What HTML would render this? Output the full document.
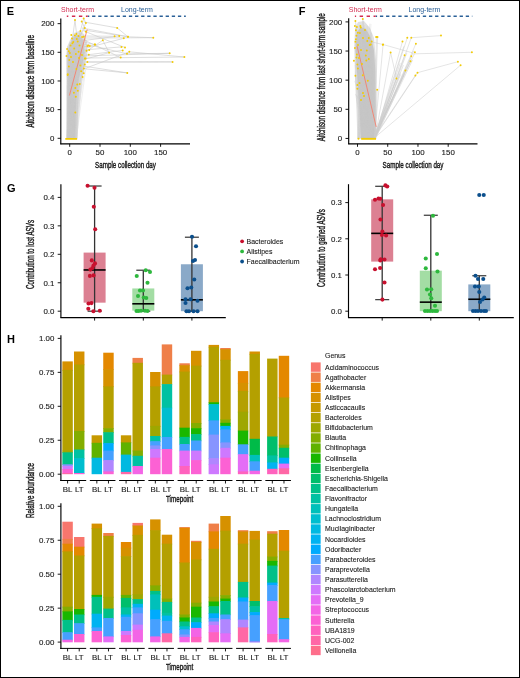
<!DOCTYPE html>
<html><head><meta charset="utf-8"><style>
html,body{margin:0;padding:0;background:#fff;}
svg{display:block;will-change:transform;}
text{font-family:"Liberation Sans",sans-serif;}
</style></head><body>
<svg width="520" height="678" viewBox="0 0 520 678">
<rect x="0" y="0" width="520" height="678" fill="#fff"/>
<g id="E">
<text transform="translate(6.80,14.80)" font-size="11" text-anchor="start" font-weight="bold" fill="#000" >E</text>
<text transform="translate(61.00,12.20)" font-size="7.0" text-anchor="start" font-weight="normal" fill="#D22C50" >Short-term</text>
<text transform="translate(121.00,12.20)" font-size="7.0" text-anchor="start" font-weight="normal" fill="#2B6198" >Long-term</text>
<line x1="87.70" y1="16.20" x2="185.80" y2="16.20" stroke="#2B6198" stroke-width="1.4" stroke-dasharray="3.3 2.83" stroke-dashoffset="1.73"/>
<line x1="66.80" y1="16.20" x2="87.70" y2="16.20" stroke="#D22C50" stroke-width="1.4" stroke-dasharray="3.4 3.6" stroke-dashoffset="1.9"/>
<path d="M66.2,138.6 L77.4,138.6 L77.9,110 L79,92 L81,80 L85,66 L87.5,52 L87,42 L84,34 L79,31 L74,33 L70,40 L67,47 L66.3,55 L66.6,80 L66.4,110 Z" fill="#e0e0e0"/>
<path d="M67.2,138.6 L75.4,138.6 L75.8,110 L76.7,92 L78.5,80 L82,66 L84.5,52 L84,43 L81,37 L77,35 L73,38 L69.5,44 L67.5,52 L67.4,80 L67.2,110 Z" fill="#cbcbcb"/>
<g stroke="#c4c4c4" stroke-width="0.45" opacity="0.6"><line x1="69.9" y1="138.4" x2="69.9" y2="76.3"/><line x1="67.3" y1="138.4" x2="77.2" y2="55.5"/><line x1="67.1" y1="138.4" x2="76.6" y2="35.3"/><line x1="71.1" y1="138.4" x2="68.3" y2="49.4"/><line x1="71.0" y1="138.4" x2="82.7" y2="38.7"/><line x1="68.8" y1="138.4" x2="78.9" y2="91.7"/><line x1="72.6" y1="138.4" x2="74.5" y2="93.5"/><line x1="67.0" y1="138.4" x2="83.3" y2="44.8"/><line x1="68.0" y1="138.4" x2="69.2" y2="58.9"/><line x1="75.1" y1="138.4" x2="70.4" y2="72.1"/><line x1="73.2" y1="138.4" x2="74.1" y2="67.4"/><line x1="67.2" y1="138.4" x2="68.1" y2="55.6"/><line x1="73.6" y1="138.4" x2="75.1" y2="52.9"/><line x1="72.6" y1="138.4" x2="75.6" y2="51.8"/><line x1="74.8" y1="138.4" x2="80.3" y2="48.0"/><line x1="72.5" y1="138.4" x2="77.0" y2="87.2"/><line x1="74.2" y1="138.4" x2="72.5" y2="93.8"/><line x1="67.7" y1="138.4" x2="74.9" y2="80.1"/><line x1="68.1" y1="138.4" x2="76.3" y2="35.5"/><line x1="73.5" y1="138.4" x2="81.5" y2="68.7"/><line x1="75.7" y1="138.4" x2="73.0" y2="77.0"/><line x1="72.7" y1="138.4" x2="78.0" y2="61.0"/><line x1="75.3" y1="138.4" x2="84.9" y2="52.9"/><line x1="73.5" y1="138.4" x2="68.2" y2="80.2"/><line x1="73.3" y1="138.4" x2="85.9" y2="64.7"/><line x1="69.5" y1="138.4" x2="74.3" y2="74.7"/><line x1="66.7" y1="138.4" x2="75.8" y2="43.7"/><line x1="67.7" y1="138.4" x2="68.1" y2="83.5"/><line x1="67.9" y1="138.4" x2="71.7" y2="60.3"/><line x1="75.6" y1="138.4" x2="68.5" y2="67.1"/><line x1="72.3" y1="138.4" x2="83.8" y2="63.7"/><line x1="75.6" y1="138.4" x2="72.3" y2="61.1"/><line x1="70.3" y1="138.4" x2="83.8" y2="68.5"/><line x1="68.1" y1="138.4" x2="70.3" y2="53.1"/><line x1="69.0" y1="138.4" x2="76.2" y2="69.6"/><line x1="69.3" y1="138.4" x2="67.1" y2="67.6"/><line x1="70.4" y1="138.4" x2="77.8" y2="92.1"/><line x1="73.8" y1="138.4" x2="76.8" y2="71.2"/><line x1="73.6" y1="138.4" x2="68.0" y2="90.0"/><line x1="74.7" y1="138.4" x2="83.6" y2="62.9"/><line x1="70.6" y1="138.4" x2="74.6" y2="40.1"/><line x1="73.2" y1="138.4" x2="68.2" y2="48.6"/><line x1="68.7" y1="138.4" x2="70.1" y2="59.3"/><line x1="67.1" y1="138.4" x2="67.0" y2="55.1"/><line x1="67.6" y1="138.4" x2="73.9" y2="35.7"/><line x1="75.7" y1="138.4" x2="78.7" y2="41.5"/><line x1="69.1" y1="138.4" x2="73.6" y2="56.7"/><line x1="67.8" y1="138.4" x2="83.1" y2="69.8"/><line x1="71.4" y1="138.4" x2="76.2" y2="38.4"/><line x1="67.6" y1="138.4" x2="73.5" y2="50.8"/><line x1="75.2" y1="138.4" x2="70.1" y2="42.1"/><line x1="76.5" y1="138.4" x2="77.0" y2="41.9"/><line x1="72.2" y1="138.4" x2="67.5" y2="72.3"/><line x1="76.8" y1="138.4" x2="83.4" y2="59.3"/><line x1="69.2" y1="138.4" x2="74.0" y2="44.2"/><line x1="74.6" y1="138.4" x2="77.1" y2="81.2"/><line x1="70.0" y1="138.4" x2="71.2" y2="84.4"/><line x1="76.8" y1="138.4" x2="83.2" y2="63.1"/><line x1="75.1" y1="138.4" x2="81.1" y2="47.2"/><line x1="71.9" y1="138.4" x2="73.8" y2="36.2"/><line x1="66.8" y1="138.4" x2="72.3" y2="52.0"/><line x1="73.8" y1="138.4" x2="85.2" y2="52.4"/><line x1="76.3" y1="138.4" x2="85.8" y2="68.6"/><line x1="70.3" y1="138.4" x2="71.2" y2="51.6"/><line x1="68.6" y1="138.4" x2="70.9" y2="74.1"/><line x1="76.0" y1="138.4" x2="83.0" y2="51.5"/><line x1="73.4" y1="138.4" x2="82.2" y2="37.0"/><line x1="73.4" y1="138.4" x2="84.3" y2="62.5"/><line x1="74.4" y1="138.4" x2="76.1" y2="44.2"/><line x1="74.8" y1="138.4" x2="73.3" y2="83.1"/><line x1="76.7" y1="138.4" x2="74.5" y2="58.4"/><line x1="76.4" y1="138.4" x2="80.8" y2="43.6"/><line x1="67.8" y1="138.4" x2="69.9" y2="89.9"/><line x1="75.0" y1="138.4" x2="69.8" y2="85.7"/><line x1="76.8" y1="138.4" x2="79.5" y2="54.3"/><line x1="72.3" y1="138.4" x2="69.5" y2="42.9"/><line x1="76.7" y1="138.4" x2="79.3" y2="65.3"/><line x1="76.3" y1="138.4" x2="75.2" y2="87.1"/><line x1="75.2" y1="138.4" x2="71.0" y2="53.3"/><line x1="69.6" y1="138.4" x2="71.6" y2="71.5"/><line x1="69.2" y1="138.4" x2="75.0" y2="41.7"/><line x1="76.1" y1="138.4" x2="73.7" y2="62.2"/><line x1="72.6" y1="138.4" x2="84.2" y2="50.0"/><line x1="76.1" y1="138.4" x2="76.5" y2="66.0"/><line x1="72.0" y1="138.4" x2="67.4" y2="68.2"/><line x1="68.4" y1="138.4" x2="67.1" y2="85.5"/><line x1="68.3" y1="138.4" x2="76.0" y2="78.0"/><line x1="72.3" y1="138.4" x2="73.2" y2="66.3"/><line x1="72.3" y1="138.4" x2="81.9" y2="40.2"/><line x1="72.4" y1="138.4" x2="71.7" y2="53.8"/><line x1="80.1" y1="56.7" x2="77.7" y2="61.0"/><line x1="82.5" y1="54.4" x2="78.6" y2="51.3"/><line x1="75.7" y1="65.7" x2="75.6" y2="52.9"/><line x1="75.1" y1="77.3" x2="80.3" y2="65.4"/><line x1="83.0" y1="46.2" x2="77.6" y2="67.9"/><line x1="81.3" y1="39.8" x2="69.3" y2="54.7"/><line x1="68.2" y1="53.5" x2="68.4" y2="61.7"/><line x1="80.3" y1="75.1" x2="69.9" y2="61.8"/><line x1="78.2" y1="39.1" x2="83.8" y2="68.9"/><line x1="70.7" y1="78.1" x2="74.6" y2="51.4"/><line x1="83.8" y1="72.4" x2="70.1" y2="53.4"/><line x1="75.8" y1="49.1" x2="70.7" y2="49.4"/><line x1="79.3" y1="33.1" x2="77.5" y2="49.1"/><line x1="67.3" y1="58.1" x2="78.9" y2="51.5"/><line x1="68.1" y1="79.5" x2="82.0" y2="69.0"/><line x1="68.8" y1="53.4" x2="67.8" y2="64.8"/><line x1="71.6" y1="43.6" x2="75.0" y2="66.8"/><line x1="80.9" y1="45.3" x2="69.8" y2="67.7"/><line x1="76.7" y1="65.9" x2="68.7" y2="45.5"/><line x1="78.7" y1="52.5" x2="68.4" y2="68.4"/><line x1="77.8" y1="70.6" x2="68.6" y2="66.3"/><line x1="68.1" y1="75.2" x2="75.6" y2="45.8"/><line x1="76.4" y1="76.6" x2="72.1" y2="41.6"/><line x1="76.0" y1="44.4" x2="69.1" y2="47.5"/><line x1="67.9" y1="52.9" x2="72.9" y2="46.3"/><line x1="79.9" y1="46.3" x2="76.5" y2="39.6"/><line x1="72.9" y1="36.7" x2="71.8" y2="38.4"/><line x1="79.5" y1="58.6" x2="70.6" y2="54.2"/><line x1="82.9" y1="39.2" x2="82.6" y2="49.6"/><line x1="75.4" y1="72.3" x2="74.5" y2="52.1"/><line x1="78.7" y1="79.2" x2="73.5" y2="64.1"/><line x1="79.0" y1="62.5" x2="74.7" y2="46.3"/><line x1="67.9" y1="50.3" x2="68.3" y2="63.5"/><line x1="71.3" y1="45.4" x2="68.6" y2="65.9"/><line x1="81.8" y1="64.7" x2="72.4" y2="44.9"/><line x1="72.0" y1="57.0" x2="70.0" y2="53.9"/><line x1="71.5" y1="78.4" x2="85.5" y2="55.9"/><line x1="71.2" y1="78.6" x2="72.9" y2="48.1"/><line x1="67.0" y1="60.2" x2="76.0" y2="51.7"/><line x1="70.4" y1="60.3" x2="67.1" y2="53.7"/><line x1="68.5" y1="58.6" x2="67.8" y2="46.7"/><line x1="72.2" y1="47.2" x2="78.1" y2="52.3"/><line x1="79.8" y1="63.7" x2="80.6" y2="65.5"/><line x1="73.6" y1="49.4" x2="85.7" y2="44.1"/><line x1="79.3" y1="62.9" x2="67.8" y2="66.1"/><line x1="82.2" y1="62.8" x2="80.9" y2="63.1"/><line x1="69.4" y1="62.1" x2="76.6" y2="63.9"/><line x1="80.7" y1="71.8" x2="78.1" y2="66.0"/><line x1="78.6" y1="65.3" x2="71.4" y2="39.6"/><line x1="69.3" y1="56.2" x2="69.0" y2="65.6"/></g>
<g stroke="#c8c8c8" stroke-width="0.6"><line x1="84.0" y1="22.0" x2="117.2" y2="27.9"/><line x1="83.7" y1="30.0" x2="127.9" y2="36.8"/><line x1="85.0" y1="38.0" x2="153.3" y2="37.7"/><line x1="80.0" y1="41.0" x2="119.2" y2="36.0"/><line x1="86.0" y1="48.0" x2="123.8" y2="38.3"/><line x1="84.0" y1="53.0" x2="102.8" y2="40.3"/><line x1="82.0" y1="56.0" x2="169.7" y2="53.3"/><line x1="85.0" y1="58.0" x2="184.4" y2="57.0"/><line x1="86.0" y1="62.0" x2="172.6" y2="61.9"/><line x1="83.0" y1="66.0" x2="127.3" y2="72.9"/><line x1="81.0" y1="70.0" x2="129.3" y2="51.8"/><line x1="85.0" y1="44.0" x2="127.0" y2="53.8"/><line x1="80.0" y1="38.0" x2="120.7" y2="57.6"/><line x1="84.0" y1="31.0" x2="125.0" y2="47.5"/><line x1="83.0" y1="50.0" x2="121.5" y2="46.9"/><line x1="86.0" y1="55.0" x2="122.7" y2="50.4"/><line x1="82.0" y1="60.0" x2="109.1" y2="52.7"/><line x1="84.0" y1="42.0" x2="94.7" y2="44.6"/><line x1="81.0" y1="47.0" x2="89.8" y2="46.0"/><line x1="83.0" y1="36.0" x2="114.6" y2="36.3"/><line x1="82.0" y1="28.0" x2="128.0" y2="36.7"/><line x1="75.0" y1="19.9" x2="72.0" y2="42.0"/><line x1="75.0" y1="19.9" x2="77.0" y2="38.0"/><line x1="83.7" y1="18.5" x2="79.0" y2="36.0"/><line x1="83.7" y1="18.5" x2="85.9" y2="23.0"/><line x1="81.7" y1="21.6" x2="84.8" y2="28.0"/><line x1="85.9" y1="23.0" x2="78.0" y2="40.0"/><line x1="84.8" y1="28.0" x2="75.0" y2="45.0"/><line x1="117.2" y1="27.9" x2="127.9" y2="36.8"/><line x1="102.8" y1="40.3" x2="109.1" y2="52.7"/><line x1="153.3" y1="37.7" x2="127.9" y2="36.8"/><line x1="169.7" y1="53.3" x2="127.0" y2="53.8"/><line x1="184.4" y1="57.0" x2="129.3" y2="51.8"/><line x1="172.6" y1="61.9" x2="84.0" y2="62.0"/><line x1="127.3" y1="72.9" x2="86.0" y2="69.0"/></g>
<line x1="69.40" y1="95.50" x2="87.20" y2="29.40" stroke="#F28472" stroke-width="0.95" />
<g fill="#F2CB05"><circle cx="117.2" cy="27.9" r="0.98"/><circle cx="127.9" cy="36.8" r="0.98"/><circle cx="153.3" cy="37.7" r="0.98"/><circle cx="119.2" cy="36.0" r="0.98"/><circle cx="123.8" cy="38.3" r="0.98"/><circle cx="102.8" cy="40.3" r="0.98"/><circle cx="169.7" cy="53.3" r="0.98"/><circle cx="184.4" cy="57.0" r="0.98"/><circle cx="172.6" cy="61.9" r="0.98"/><circle cx="127.3" cy="72.9" r="0.98"/><circle cx="129.3" cy="51.8" r="0.98"/><circle cx="127.0" cy="53.8" r="0.98"/><circle cx="120.7" cy="57.6" r="0.98"/><circle cx="125.0" cy="47.5" r="0.98"/><circle cx="121.5" cy="46.9" r="0.98"/><circle cx="122.7" cy="50.4" r="0.98"/><circle cx="109.1" cy="52.7" r="0.98"/><circle cx="94.7" cy="44.6" r="0.98"/><circle cx="89.8" cy="46.0" r="0.98"/><circle cx="114.6" cy="36.3" r="0.98"/><circle cx="128.0" cy="36.7" r="0.98"/><circle cx="75.0" cy="19.9" r="0.98"/><circle cx="83.7" cy="18.5" r="0.98"/><circle cx="81.7" cy="21.6" r="0.98"/><circle cx="85.9" cy="23.0" r="0.98"/><circle cx="84.8" cy="28.0" r="0.98"/><circle cx="80.4" cy="30.9" r="0.98"/><circle cx="85.9" cy="31.8" r="0.98"/><circle cx="71.3" cy="34.9" r="0.98"/><circle cx="74.9" cy="35.5" r="0.98"/><circle cx="76.4" cy="34.0" r="0.98"/><circle cx="83.7" cy="36.7" r="0.98"/><circle cx="95.1" cy="44.6" r="0.98"/><circle cx="72.4" cy="43.3" r="0.98"/><circle cx="73.3" cy="42.0" r="0.98"/><circle cx="70.6" cy="45.5" r="0.98"/><circle cx="67.1" cy="49.1" r="0.98"/><circle cx="68.8" cy="51.3" r="0.98"/><circle cx="69.9" cy="53.0" r="0.98"/><circle cx="87.4" cy="46.0" r="0.98"/><circle cx="88.3" cy="45.5" r="0.98"/><circle cx="86.5" cy="50.8" r="0.98"/><circle cx="89.2" cy="50.0" r="0.98"/><circle cx="88.8" cy="54.8" r="0.98"/><circle cx="85.7" cy="58.4" r="0.98"/><circle cx="84.8" cy="58.4" r="0.98"/><circle cx="78.6" cy="51.7" r="0.98"/><circle cx="75.9" cy="53.9" r="0.98"/><circle cx="69.3" cy="60.1" r="0.98"/><circle cx="87.4" cy="61.9" r="0.98"/><circle cx="84.8" cy="64.6" r="0.98"/><circle cx="80.4" cy="65.4" r="0.98"/><circle cx="83.9" cy="68.5" r="0.98"/><circle cx="81.2" cy="71.2" r="0.98"/><circle cx="76.4" cy="69.0" r="0.98"/><circle cx="83.7" cy="73.2" r="0.98"/><circle cx="67.8" cy="74.3" r="0.98"/><circle cx="77.7" cy="41.5" r="0.98"/><circle cx="76.8" cy="38.9" r="0.98"/><circle cx="79.5" cy="45.5" r="0.98"/><circle cx="74.2" cy="48.6" r="0.98"/><circle cx="82.1" cy="37.1" r="0.98"/><circle cx="82.6" cy="77.0" r="0.98"/><circle cx="79.8" cy="84.1" r="0.98"/><circle cx="77.3" cy="84.4" r="0.98"/><circle cx="75.3" cy="87.9" r="0.98"/><circle cx="77.8" cy="90.8" r="0.98"/><circle cx="73.9" cy="92.8" r="0.98"/><circle cx="75.8" cy="96.8" r="0.98"/><circle cx="75.3" cy="112.4" r="0.98"/><circle cx="67.7" cy="75.0" r="0.98"/><circle cx="68.9" cy="66.4" r="0.98"/><circle cx="66.5" cy="56.0" r="0.98"/><circle cx="71.0" cy="57.0" r="0.98"/><circle cx="73.0" cy="62.0" r="0.98"/><circle cx="79.0" cy="58.0" r="0.98"/><circle cx="82.0" cy="55.0" r="0.98"/><circle cx="72.0" cy="38.5" r="0.98"/><circle cx="78.5" cy="36.0" r="0.98"/></g>
<rect x="65.3" y="138.0" width="11.8" height="1.8" fill="#F2CB05"/>
<line x1="60.80" y1="18.40" x2="60.80" y2="144.30" stroke="#000" stroke-width="1.15" />
<line x1="57.60" y1="138.30" x2="60.80" y2="138.30" stroke="#000" stroke-width="0.9" />
<text transform="translate(54.30,141.10)" font-size="7.9" text-anchor="end" font-weight="normal" fill="#1a1a1a" stroke="#1a1a1a" stroke-width="0.12" >0</text>
<line x1="57.60" y1="109.64" x2="60.80" y2="109.64" stroke="#000" stroke-width="0.9" />
<text transform="translate(54.30,112.44)" font-size="7.9" text-anchor="end" font-weight="normal" fill="#1a1a1a" stroke="#1a1a1a" stroke-width="0.12" >50</text>
<line x1="57.60" y1="80.98" x2="60.80" y2="80.98" stroke="#000" stroke-width="0.9" />
<text transform="translate(54.30,83.78)" font-size="7.9" text-anchor="end" font-weight="normal" fill="#1a1a1a" stroke="#1a1a1a" stroke-width="0.12" >100</text>
<line x1="57.60" y1="52.31" x2="60.80" y2="52.31" stroke="#000" stroke-width="0.9" />
<text transform="translate(54.30,55.11)" font-size="7.9" text-anchor="end" font-weight="normal" fill="#1a1a1a" stroke="#1a1a1a" stroke-width="0.12" >150</text>
<line x1="57.60" y1="23.65" x2="60.80" y2="23.65" stroke="#000" stroke-width="0.9" />
<text transform="translate(54.30,26.45)" font-size="7.9" text-anchor="end" font-weight="normal" fill="#1a1a1a" stroke="#1a1a1a" stroke-width="0.12" >200</text>
<line x1="60.30" y1="143.80" x2="190.00" y2="143.80" stroke="#000" stroke-width="1.15" />
<line x1="69.70" y1="143.80" x2="69.70" y2="146.80" stroke="#000" stroke-width="0.9" />
<text transform="translate(69.70,155.40)" font-size="7.9" text-anchor="middle" font-weight="normal" fill="#1a1a1a" stroke="#1a1a1a" stroke-width="0.12" >0</text>
<line x1="100.00" y1="143.80" x2="100.00" y2="146.80" stroke="#000" stroke-width="0.9" />
<text transform="translate(100.00,155.40)" font-size="7.9" text-anchor="middle" font-weight="normal" fill="#1a1a1a" stroke="#1a1a1a" stroke-width="0.12" >50</text>
<line x1="130.30" y1="143.80" x2="130.30" y2="146.80" stroke="#000" stroke-width="0.9" />
<text transform="translate(130.30,155.40)" font-size="7.9" text-anchor="middle" font-weight="normal" fill="#1a1a1a" stroke="#1a1a1a" stroke-width="0.12" >100</text>
<line x1="160.60" y1="143.80" x2="160.60" y2="146.80" stroke="#000" stroke-width="0.9" />
<text transform="translate(160.60,155.40)" font-size="7.9" text-anchor="middle" font-weight="normal" fill="#1a1a1a" stroke="#1a1a1a" stroke-width="0.12" >150</text>
<text transform="translate(125.50,168.40) scale(0.64,1)" font-size="9.8" text-anchor="middle" font-weight="normal" fill="#1a1a1a" stroke="#1a1a1a" stroke-width="0.42" >Sample collection day</text>
<text transform="translate(33.50,81.30) rotate(-90) scale(0.647,1)" font-size="10.0" text-anchor="middle" font-weight="normal" fill="#1a1a1a" stroke="#1a1a1a" stroke-width="0.42" >Aitchison distance from baseline</text>
</g>
<g id="F">
<text transform="translate(298.80,14.60)" font-size="11" text-anchor="start" font-weight="bold" fill="#000" >F</text>
<text transform="translate(348.80,12.20)" font-size="7.0" text-anchor="start" font-weight="normal" fill="#D22C50" >Short-term</text>
<text transform="translate(408.50,12.20)" font-size="7.0" text-anchor="start" font-weight="normal" fill="#2B6198" >Long-term</text>
<line x1="375.60" y1="16.20" x2="472.30" y2="16.20" stroke="#2B6198" stroke-width="1.4" stroke-dasharray="3.3 2.83" stroke-dashoffset="1.8"/>
<line x1="354.90" y1="16.20" x2="375.60" y2="16.20" stroke="#D22C50" stroke-width="1.4" stroke-dasharray="3.4 3.55" stroke-dashoffset="2.2"/>
<path d="M354.3,45 L355,28 L358,22 L364,21 L370,28 L374,38 L376,60 L376.4,138.6 L357.3,138.6 L356.5,110 L355,80 Z" fill="#e0e0e0"/>
<path d="M355.5,48 L357,32 L361,27 L366,29 L371,38 L374,50 L375.3,70 L375.6,138.6 L361,138.6 L359.5,110 L357.5,80 Z" fill="#c8c8c8"/>
<g stroke="#c4c4c4" stroke-width="0.45" opacity="0.6"><line x1="364.3" y1="71.0" x2="369.3" y2="138.4"/><line x1="363.1" y1="22.3" x2="372.4" y2="99.2"/><line x1="363.9" y1="73.4" x2="359.2" y2="79.7"/><line x1="355.8" y1="42.7" x2="371.1" y2="138.4"/><line x1="367.4" y1="98.1" x2="366.9" y2="138.4"/><line x1="362.9" y1="75.3" x2="371.8" y2="138.4"/><line x1="365.7" y1="28.0" x2="360.7" y2="138.4"/><line x1="367.5" y1="45.7" x2="368.2" y2="138.4"/><line x1="355.6" y1="43.0" x2="370.1" y2="138.4"/><line x1="366.3" y1="44.7" x2="367.3" y2="138.4"/><line x1="362.7" y1="31.2" x2="374.1" y2="138.4"/><line x1="371.6" y1="95.0" x2="358.3" y2="138.4"/><line x1="368.8" y1="97.5" x2="366.1" y2="138.4"/><line x1="358.2" y1="95.8" x2="361.8" y2="138.4"/><line x1="357.0" y1="62.9" x2="375.1" y2="138.4"/><line x1="368.9" y1="61.7" x2="374.0" y2="78.0"/><line x1="370.2" y1="59.9" x2="358.4" y2="138.4"/><line x1="363.1" y1="57.2" x2="363.4" y2="138.4"/><line x1="360.5" y1="46.7" x2="373.1" y2="138.4"/><line x1="367.6" y1="87.5" x2="360.2" y2="115.6"/><line x1="370.3" y1="44.6" x2="364.7" y2="138.4"/><line x1="372.0" y1="68.0" x2="364.5" y2="138.4"/><line x1="359.3" y1="25.8" x2="359.8" y2="82.3"/><line x1="370.9" y1="41.4" x2="362.8" y2="138.4"/><line x1="357.8" y1="51.1" x2="375.2" y2="123.3"/><line x1="365.5" y1="93.2" x2="374.9" y2="138.4"/><line x1="367.1" y1="25.9" x2="371.2" y2="138.4"/><line x1="367.7" y1="72.3" x2="363.2" y2="138.4"/><line x1="370.7" y1="31.9" x2="366.5" y2="138.4"/><line x1="359.7" y1="79.6" x2="375.6" y2="138.4"/><line x1="366.0" y1="45.5" x2="368.0" y2="138.4"/><line x1="357.4" y1="34.6" x2="361.7" y2="98.8"/><line x1="358.4" y1="92.7" x2="375.9" y2="138.4"/><line x1="356.9" y1="37.0" x2="359.6" y2="138.4"/><line x1="356.1" y1="40.7" x2="362.7" y2="138.4"/><line x1="370.0" y1="80.5" x2="365.4" y2="138.4"/><line x1="363.7" y1="51.4" x2="364.1" y2="138.4"/><line x1="359.4" y1="97.5" x2="360.3" y2="138.4"/><line x1="365.5" y1="89.3" x2="361.9" y2="138.4"/><line x1="358.8" y1="53.2" x2="366.0" y2="126.2"/><line x1="369.8" y1="23.7" x2="358.6" y2="129.9"/><line x1="362.8" y1="67.8" x2="358.0" y2="138.4"/><line x1="370.7" y1="86.4" x2="373.4" y2="79.4"/><line x1="356.4" y1="34.0" x2="367.4" y2="138.4"/><line x1="371.0" y1="78.3" x2="369.7" y2="95.7"/><line x1="364.2" y1="25.1" x2="372.1" y2="138.4"/><line x1="370.6" y1="72.3" x2="363.5" y2="138.4"/><line x1="358.9" y1="71.6" x2="370.6" y2="138.4"/><line x1="355.7" y1="62.9" x2="368.5" y2="138.4"/><line x1="358.4" y1="68.9" x2="358.2" y2="138.4"/><line x1="362.6" y1="96.8" x2="369.6" y2="97.1"/><line x1="358.6" y1="41.3" x2="375.3" y2="84.0"/><line x1="354.9" y1="60.9" x2="370.1" y2="138.4"/><line x1="359.0" y1="74.1" x2="374.7" y2="138.4"/><line x1="355.1" y1="48.4" x2="365.6" y2="138.4"/><line x1="358.0" y1="84.2" x2="371.3" y2="138.4"/><line x1="358.1" y1="97.6" x2="363.6" y2="78.0"/><line x1="358.4" y1="81.3" x2="363.3" y2="98.7"/><line x1="357.8" y1="39.4" x2="365.5" y2="138.4"/><line x1="371.1" y1="33.4" x2="365.1" y2="138.4"/><line x1="371.5" y1="33.1" x2="358.9" y2="138.4"/><line x1="361.4" y1="92.1" x2="373.9" y2="137.8"/><line x1="370.8" y1="47.7" x2="361.3" y2="118.2"/><line x1="355.1" y1="73.8" x2="364.8" y2="138.4"/><line x1="360.3" y1="35.2" x2="358.1" y2="138.4"/><line x1="360.7" y1="96.5" x2="360.2" y2="76.2"/><line x1="360.7" y1="86.1" x2="372.8" y2="138.4"/><line x1="355.4" y1="58.9" x2="364.7" y2="75.1"/><line x1="360.9" y1="92.0" x2="358.5" y2="138.4"/><line x1="368.7" y1="81.8" x2="358.7" y2="138.4"/><line x1="355.6" y1="93.8" x2="362.6" y2="130.1"/><line x1="360.4" y1="43.2" x2="375.2" y2="138.4"/><line x1="359.1" y1="77.9" x2="363.7" y2="138.4"/><line x1="354.6" y1="80.9" x2="374.5" y2="138.4"/><line x1="371.0" y1="23.9" x2="362.2" y2="138.4"/><line x1="371.2" y1="96.4" x2="365.0" y2="138.4"/><line x1="362.0" y1="60.5" x2="374.7" y2="138.4"/><line x1="368.5" y1="79.6" x2="372.8" y2="107.4"/><line x1="360.2" y1="46.9" x2="364.5" y2="66.2"/><line x1="358.0" y1="80.7" x2="362.5" y2="138.4"/><line x1="355.1" y1="65.1" x2="363.9" y2="128.9"/><line x1="371.8" y1="42.7" x2="359.5" y2="138.4"/><line x1="363.2" y1="77.4" x2="366.0" y2="138.4"/><line x1="361.8" y1="70.4" x2="370.1" y2="126.1"/><line x1="366.1" y1="31.5" x2="373.1" y2="138.4"/><line x1="364.4" y1="51.1" x2="371.3" y2="138.4"/><line x1="358.8" y1="41.1" x2="360.8" y2="105.1"/><line x1="360.2" y1="52.9" x2="375.9" y2="138.4"/><line x1="358.5" y1="85.1" x2="369.8" y2="68.0"/><line x1="362.8" y1="85.9" x2="373.1" y2="63.1"/><line x1="359.6" y1="31.3" x2="361.4" y2="105.5"/><line x1="370.8" y1="51.0" x2="373.6" y2="138.4"/><line x1="359.0" y1="82.7" x2="375.0" y2="138.4"/><line x1="364.9" y1="70.4" x2="361.9" y2="138.4"/><line x1="357.0" y1="37.9" x2="362.6" y2="138.4"/><line x1="365.9" y1="37.9" x2="358.2" y2="138.4"/><line x1="366.4" y1="36.4" x2="363.6" y2="138.4"/><line x1="368.4" y1="64.7" x2="359.1" y2="138.4"/><line x1="361.4" y1="64.9" x2="369.5" y2="138.4"/><line x1="357.4" y1="76.2" x2="365.4" y2="138.4"/><line x1="359.9" y1="96.3" x2="363.6" y2="138.4"/><line x1="360.8" y1="54.5" x2="373.6" y2="88.4"/><line x1="358.0" y1="78.8" x2="361.7" y2="138.4"/><line x1="370.3" y1="55.1" x2="372.8" y2="138.4"/><line x1="369.9" y1="58.0" x2="360.9" y2="138.4"/><line x1="364.2" y1="72.0" x2="374.4" y2="138.4"/><line x1="365.4" y1="50.9" x2="367.1" y2="138.4"/><line x1="359.5" y1="62.7" x2="374.7" y2="138.4"/><line x1="363.1" y1="84.8" x2="375.4" y2="138.4"/><line x1="356.7" y1="95.6" x2="375.6" y2="138.4"/><line x1="355.4" y1="94.2" x2="365.0" y2="108.4"/><line x1="368.9" y1="34.5" x2="372.1" y2="138.4"/><line x1="361.6" y1="88.0" x2="372.9" y2="138.4"/><line x1="358.3" y1="53.2" x2="367.3" y2="138.4"/><line x1="356.7" y1="41.3" x2="371.0" y2="63.2"/><line x1="364.3" y1="81.1" x2="358.7" y2="69.2"/><line x1="365.0" y1="64.9" x2="369.3" y2="138.4"/><line x1="361.9" y1="67.4" x2="365.7" y2="138.4"/><line x1="362.3" y1="56.2" x2="358.4" y2="138.4"/><line x1="363.1" y1="40.3" x2="371.7" y2="95.7"/><line x1="357.6" y1="58.9" x2="359.9" y2="138.4"/><line x1="362.0" y1="29.2" x2="366.0" y2="138.4"/><line x1="355.2" y1="71.6" x2="359.5" y2="120.7"/><line x1="363.5" y1="26.2" x2="367.1" y2="138.4"/><line x1="371.1" y1="32.6" x2="373.4" y2="117.1"/><line x1="368.8" y1="37.1" x2="375.7" y2="138.4"/><line x1="371.2" y1="93.5" x2="361.0" y2="132.6"/><line x1="355.6" y1="49.4" x2="371.6" y2="138.4"/><line x1="370.2" y1="43.4" x2="372.7" y2="138.4"/><line x1="363.3" y1="93.8" x2="361.7" y2="138.4"/><line x1="362.8" y1="19.0" x2="371.1" y2="119.1"/><line x1="362.8" y1="19.0" x2="366.4" y2="115.2"/><line x1="362.8" y1="19.0" x2="367.6" y2="136.6"/><line x1="355.4" y1="20.9" x2="372.8" y2="135.4"/><line x1="355.4" y1="20.9" x2="367.7" y2="132.3"/><line x1="355.4" y1="20.9" x2="367.2" y2="125.1"/><line x1="360.4" y1="25.9" x2="372.4" y2="120.2"/><line x1="360.4" y1="25.9" x2="374.7" y2="125.8"/><line x1="360.4" y1="25.9" x2="371.8" y2="135.1"/><line x1="365.0" y1="30.0" x2="367.0" y2="138.2"/><line x1="365.0" y1="30.0" x2="372.3" y2="121.2"/><line x1="365.0" y1="30.0" x2="374.0" y2="117.5"/><line x1="368.8" y1="37.9" x2="375.9" y2="126.4"/><line x1="368.8" y1="37.9" x2="369.6" y2="131.7"/><line x1="368.8" y1="37.9" x2="370.4" y2="115.0"/><line x1="371.7" y1="41.5" x2="373.4" y2="111.4"/><line x1="371.7" y1="41.5" x2="374.2" y2="117.2"/><line x1="371.7" y1="41.5" x2="372.4" y2="137.9"/></g>
<g stroke="#cacaca" stroke-width="0.5"><line x1="374.6" y1="136.2" x2="383.1" y2="44.5"/><line x1="375.0" y1="137.5" x2="390.6" y2="52.5"/><line x1="375.4" y1="137.2" x2="376.3" y2="36.9"/><line x1="374.6" y1="136.6" x2="377.5" y2="37.0"/><line x1="374.7" y1="135.7" x2="396.5" y2="78.4"/><line x1="375.3" y1="137.0" x2="402.5" y2="41.5"/><line x1="374.5" y1="137.5" x2="407.3" y2="37.7"/><line x1="375.5" y1="136.8" x2="411.3" y2="37.7"/><line x1="375.3" y1="136.8" x2="415.9" y2="43.7"/><line x1="375.2" y1="136.3" x2="410.5" y2="61.2"/><line x1="374.6" y1="137.1" x2="405.4" y2="70.6"/><line x1="374.6" y1="136.6" x2="415.4" y2="75.4"/><line x1="375.3" y1="135.6" x2="411.3" y2="56.3"/><line x1="375.1" y1="137.2" x2="460.6" y2="65.2"/><line x1="375.4" y1="136.2" x2="377.2" y2="89.7"/><line x1="374.2" y1="135.9" x2="414.4" y2="53.9"/><line x1="374.9" y1="137.0" x2="404.6" y2="55.2"/><line x1="375.5" y1="136.2" x2="417.5" y2="72.7"/><line x1="441.0" y1="35.6" x2="411.3" y2="37.7"/><line x1="471.9" y1="52.3" x2="412.3" y2="53.9"/><line x1="457.9" y1="61.7" x2="417.5" y2="72.7"/><line x1="383.1" y1="44.5" x2="412.3" y2="52.8"/><line x1="390.6" y1="52.5" x2="396.5" y2="78.4"/><line x1="383.1" y1="44.5" x2="372.0" y2="42.0"/><line x1="375.6" y1="135.4" x2="411.0" y2="59.6"/><line x1="376.4" y1="136.9" x2="404.2" y2="74.8"/><line x1="374.6" y1="136.1" x2="406.9" y2="52.8"/><line x1="374.6" y1="137.1" x2="400.2" y2="63.2"/><line x1="376.4" y1="134.6" x2="403.4" y2="65.1"/><line x1="375.5" y1="136.6" x2="413.8" y2="50.8"/><line x1="375.1" y1="135.2" x2="400.8" y2="74.3"/><line x1="376.1" y1="136.9" x2="400.1" y2="72.9"/><line x1="376.0" y1="135.9" x2="412.6" y2="59.9"/><line x1="375.0" y1="134.4" x2="403.9" y2="46.3"/></g>
<line x1="357.10" y1="46.10" x2="376.20" y2="126.90" stroke="#F28472" stroke-width="0.95" />
<g fill="#F2CB05"><circle cx="441.0" cy="35.6" r="0.98"/><circle cx="471.9" cy="52.3" r="0.98"/><circle cx="457.9" cy="61.7" r="0.98"/><circle cx="460.6" cy="65.2" r="0.98"/><circle cx="417.5" cy="72.7" r="0.98"/><circle cx="415.4" cy="75.4" r="0.98"/><circle cx="411.3" cy="37.7" r="0.98"/><circle cx="407.3" cy="37.7" r="0.98"/><circle cx="402.5" cy="41.5" r="0.98"/><circle cx="415.9" cy="43.7" r="0.98"/><circle cx="414.9" cy="52.3" r="0.98"/><circle cx="411.3" cy="56.3" r="0.98"/><circle cx="404.6" cy="55.2" r="0.98"/><circle cx="410.5" cy="61.2" r="0.98"/><circle cx="390.6" cy="52.5" r="0.98"/><circle cx="383.1" cy="44.5" r="0.98"/><circle cx="376.3" cy="36.9" r="0.98"/><circle cx="377.2" cy="89.7" r="0.98"/><circle cx="396.5" cy="78.4" r="0.98"/><circle cx="405.4" cy="70.6" r="0.98"/><circle cx="377.5" cy="37.0" r="0.98"/><circle cx="362.8" cy="19.0" r="0.98"/><circle cx="355.4" cy="20.9" r="0.98"/><circle cx="354.9" cy="26.1" r="0.98"/><circle cx="356.9" cy="26.9" r="0.98"/><circle cx="360.4" cy="25.9" r="0.98"/><circle cx="360.8" cy="27.4" r="0.98"/><circle cx="355.9" cy="30.3" r="0.98"/><circle cx="357.9" cy="32.8" r="0.98"/><circle cx="359.9" cy="33.1" r="0.98"/><circle cx="356.4" cy="35.8" r="0.98"/><circle cx="355.9" cy="39.2" r="0.98"/><circle cx="355.4" cy="41.7" r="0.98"/><circle cx="368.8" cy="37.9" r="0.98"/><circle cx="367.3" cy="40.9" r="0.98"/><circle cx="371.7" cy="41.5" r="0.98"/><circle cx="369.7" cy="45.1" r="0.98"/><circle cx="370.7" cy="44.4" r="0.98"/><circle cx="376.5" cy="36.9" r="0.98"/><circle cx="382.8" cy="44.8" r="0.98"/><circle cx="354.9" cy="48.1" r="0.98"/><circle cx="366.8" cy="50.6" r="0.98"/><circle cx="356.9" cy="54.5" r="0.98"/><circle cx="356.4" cy="57.5" r="0.98"/><circle cx="353.9" cy="60.7" r="0.98"/><circle cx="357.4" cy="64.4" r="0.98"/><circle cx="357.9" cy="68.4" r="0.98"/><circle cx="368.8" cy="59.0" r="0.98"/><circle cx="366.3" cy="60.5" r="0.98"/><circle cx="365.8" cy="55.5" r="0.98"/><circle cx="355.4" cy="75.8" r="0.98"/><circle cx="362.8" cy="75.3" r="0.98"/><circle cx="367.8" cy="80.7" r="0.98"/><circle cx="357.4" cy="85.1" r="0.98"/><circle cx="357.4" cy="88.7" r="0.98"/><circle cx="359.5" cy="83.0" r="0.98"/><circle cx="363.0" cy="93.0" r="0.98"/><circle cx="364.0" cy="96.0" r="0.98"/><circle cx="361.0" cy="100.0" r="0.98"/><circle cx="358.0" cy="45.0" r="0.98"/><circle cx="361.0" cy="50.0" r="0.98"/><circle cx="363.0" cy="38.0" r="0.98"/><circle cx="365.0" cy="30.0" r="0.98"/><circle cx="359.0" cy="58.0" r="0.98"/><circle cx="362.0" cy="64.0" r="0.98"/></g>
<rect x="361.2" y="137.9" width="14.8" height="1.9" fill="#F2CB05"/>
<circle cx="358.5" cy="138.8" r="1.05" fill="#F2CB05"/>
<line x1="348.70" y1="18.20" x2="348.70" y2="144.30" stroke="#000" stroke-width="1.15" />
<line x1="345.50" y1="138.45" x2="348.70" y2="138.45" stroke="#000" stroke-width="0.9" />
<text transform="translate(342.20,141.25)" font-size="7.9" text-anchor="end" font-weight="normal" fill="#1a1a1a" stroke="#1a1a1a" stroke-width="0.12" >0</text>
<line x1="345.50" y1="109.31" x2="348.70" y2="109.31" stroke="#000" stroke-width="0.9" />
<text transform="translate(342.20,112.11)" font-size="7.9" text-anchor="end" font-weight="normal" fill="#1a1a1a" stroke="#1a1a1a" stroke-width="0.12" >50</text>
<line x1="345.50" y1="80.17" x2="348.70" y2="80.17" stroke="#000" stroke-width="0.9" />
<text transform="translate(342.20,82.97)" font-size="7.9" text-anchor="end" font-weight="normal" fill="#1a1a1a" stroke="#1a1a1a" stroke-width="0.12" >100</text>
<line x1="345.50" y1="51.04" x2="348.70" y2="51.04" stroke="#000" stroke-width="0.9" />
<text transform="translate(342.20,53.84)" font-size="7.9" text-anchor="end" font-weight="normal" fill="#1a1a1a" stroke="#1a1a1a" stroke-width="0.12" >150</text>
<line x1="345.50" y1="21.90" x2="348.70" y2="21.90" stroke="#000" stroke-width="0.9" />
<text transform="translate(342.20,24.70)" font-size="7.9" text-anchor="end" font-weight="normal" fill="#1a1a1a" stroke="#1a1a1a" stroke-width="0.12" >200</text>
<line x1="348.30" y1="143.80" x2="477.50" y2="143.80" stroke="#000" stroke-width="1.15" />
<line x1="357.50" y1="143.80" x2="357.50" y2="146.80" stroke="#000" stroke-width="0.9" />
<text transform="translate(357.50,155.40)" font-size="7.9" text-anchor="middle" font-weight="normal" fill="#1a1a1a" stroke="#1a1a1a" stroke-width="0.12" >0</text>
<line x1="387.73" y1="143.80" x2="387.73" y2="146.80" stroke="#000" stroke-width="0.9" />
<text transform="translate(387.73,155.40)" font-size="7.9" text-anchor="middle" font-weight="normal" fill="#1a1a1a" stroke="#1a1a1a" stroke-width="0.12" >50</text>
<line x1="417.97" y1="143.80" x2="417.97" y2="146.80" stroke="#000" stroke-width="0.9" />
<text transform="translate(417.97,155.40)" font-size="7.9" text-anchor="middle" font-weight="normal" fill="#1a1a1a" stroke="#1a1a1a" stroke-width="0.12" >100</text>
<line x1="448.20" y1="143.80" x2="448.20" y2="146.80" stroke="#000" stroke-width="0.9" />
<text transform="translate(448.20,155.40)" font-size="7.9" text-anchor="middle" font-weight="normal" fill="#1a1a1a" stroke="#1a1a1a" stroke-width="0.12" >150</text>
<text transform="translate(413.00,168.40) scale(0.64,1)" font-size="9.8" text-anchor="middle" font-weight="normal" fill="#1a1a1a" stroke="#1a1a1a" stroke-width="0.42" >Sample collection day</text>
<text transform="translate(325.00,77.30) rotate(-90) scale(0.625,1)" font-size="10.0" text-anchor="middle" font-weight="normal" fill="#1a1a1a" stroke="#1a1a1a" stroke-width="0.42" >Aitchison distance from last short-term sample</text>
</g>
<g id="G">
<text transform="translate(6.90,192.10)" font-size="11" text-anchor="start" font-weight="bold" fill="#000" >G</text>
<rect x="83.60" y="252.59" width="22.00" height="50.07" fill="#DC8092"/>
<line x1="94.60" y1="186.02" x2="94.60" y2="311.20" stroke="#333" stroke-width="1.3" />
<line x1="87.60" y1="186.02" x2="101.60" y2="186.02" stroke="#444" stroke-width="1.3" />
<line x1="87.60" y1="311.20" x2="101.60" y2="311.20" stroke="#444" stroke-width="1.3" />
<line x1="83.60" y1="269.95" x2="105.60" y2="269.95" stroke="#000" stroke-width="1.6" />
<rect x="132.30" y="288.44" width="22.00" height="22.19" fill="#A3DDA4"/>
<line x1="143.30" y1="270.23" x2="143.30" y2="311.20" stroke="#333" stroke-width="1.3" />
<line x1="136.30" y1="270.23" x2="150.30" y2="270.23" stroke="#444" stroke-width="1.3" />
<line x1="136.30" y1="311.20" x2="150.30" y2="311.20" stroke="#444" stroke-width="1.3" />
<line x1="132.30" y1="303.80" x2="154.30" y2="303.80" stroke="#000" stroke-width="1.6" />
<rect x="180.90" y="264.26" width="22.00" height="46.94" fill="#8AA9C8"/>
<line x1="191.90" y1="237.23" x2="191.90" y2="311.20" stroke="#333" stroke-width="1.3" />
<line x1="184.90" y1="237.23" x2="198.90" y2="237.23" stroke="#444" stroke-width="1.3" />
<line x1="184.90" y1="311.20" x2="198.90" y2="311.20" stroke="#444" stroke-width="1.3" />
<line x1="180.90" y1="299.82" x2="202.90" y2="299.82" stroke="#000" stroke-width="1.6" />
<g fill="#C8102E"><circle cx="87.60" cy="185.80" r="2.05"/><circle cx="94.50" cy="187.70" r="2.05"/><circle cx="93.80" cy="206.80" r="2.05"/><circle cx="95.20" cy="229.20" r="2.05"/><circle cx="91.80" cy="260.40" r="2.05"/><circle cx="95.00" cy="263.40" r="2.05"/><circle cx="93.50" cy="265.50" r="2.05"/><circle cx="90.40" cy="269.60" r="2.05"/><circle cx="92.50" cy="268.00" r="2.05"/><circle cx="89.90" cy="275.90" r="2.05"/><circle cx="93.60" cy="275.40" r="2.05"/><circle cx="88.50" cy="303.50" r="2.05"/><circle cx="91.50" cy="303.10" r="2.05"/><circle cx="88.30" cy="308.80" r="2.05"/><circle cx="93.40" cy="311.20" r="2.05"/><circle cx="99.80" cy="310.70" r="2.05"/></g>
<g fill="#2DB83D"><circle cx="145.75" cy="270.25" r="2.05"/><circle cx="150.00" cy="272.00" r="2.05"/><circle cx="136.75" cy="276.00" r="2.05"/><circle cx="147.50" cy="282.75" r="2.05"/><circle cx="140.00" cy="290.50" r="2.05"/><circle cx="143.00" cy="290.50" r="2.05"/><circle cx="138.00" cy="296.00" r="2.05"/><circle cx="143.75" cy="297.50" r="2.05"/><circle cx="146.25" cy="298.00" r="2.05"/><circle cx="136.50" cy="311.00" r="2.05"/><circle cx="138.50" cy="311.00" r="2.05"/><circle cx="141.00" cy="310.80" r="2.05"/><circle cx="145.00" cy="310.80" r="2.05"/><circle cx="147.50" cy="311.00" r="2.05"/></g>
<g fill="#0B4F8C"><circle cx="192.00" cy="236.75" r="2.05"/><circle cx="196.00" cy="246.25" r="2.05"/><circle cx="193.00" cy="261.00" r="2.05"/><circle cx="195.00" cy="260.00" r="2.05"/><circle cx="194.25" cy="279.50" r="2.05"/><circle cx="187.50" cy="288.25" r="2.05"/><circle cx="191.25" cy="287.50" r="2.05"/><circle cx="185.50" cy="299.25" r="2.05"/><circle cx="190.50" cy="299.25" r="2.05"/><circle cx="197.50" cy="300.75" r="2.05"/><circle cx="185.50" cy="303.00" r="2.05"/><circle cx="186.50" cy="311.20" r="2.05"/><circle cx="189.00" cy="311.20" r="2.05"/><circle cx="193.50" cy="311.20" r="2.05"/><circle cx="197.50" cy="311.20" r="2.05"/></g>
<line x1="60.90" y1="184.20" x2="60.90" y2="317.80" stroke="#000" stroke-width="1.15" />
<line x1="57.70" y1="311.20" x2="60.90" y2="311.20" stroke="#000" stroke-width="0.9" />
<text transform="translate(54.40,314.00)" font-size="7.9" text-anchor="end" font-weight="normal" fill="#1a1a1a" stroke="#1a1a1a" stroke-width="0.12" >0.0</text>
<line x1="57.70" y1="282.75" x2="60.90" y2="282.75" stroke="#000" stroke-width="0.9" />
<text transform="translate(54.40,285.55)" font-size="7.9" text-anchor="end" font-weight="normal" fill="#1a1a1a" stroke="#1a1a1a" stroke-width="0.12" >0.1</text>
<line x1="57.70" y1="254.30" x2="60.90" y2="254.30" stroke="#000" stroke-width="0.9" />
<text transform="translate(54.40,257.10)" font-size="7.9" text-anchor="end" font-weight="normal" fill="#1a1a1a" stroke="#1a1a1a" stroke-width="0.12" >0.2</text>
<line x1="57.70" y1="225.85" x2="60.90" y2="225.85" stroke="#000" stroke-width="0.9" />
<text transform="translate(54.40,228.65)" font-size="7.9" text-anchor="end" font-weight="normal" fill="#1a1a1a" stroke="#1a1a1a" stroke-width="0.12" >0.3</text>
<line x1="57.70" y1="197.40" x2="60.90" y2="197.40" stroke="#000" stroke-width="0.9" />
<text transform="translate(54.40,200.20)" font-size="7.9" text-anchor="end" font-weight="normal" fill="#1a1a1a" stroke="#1a1a1a" stroke-width="0.12" >0.4</text>
<line x1="60.40" y1="317.60" x2="225.80" y2="317.60" stroke="#000" stroke-width="1.15" />
<line x1="94.60" y1="317.60" x2="94.60" y2="320.60" stroke="#000" stroke-width="0.9" />
<text transform="translate(94.60,0.00)" font-size="7.9" text-anchor="middle" font-weight="normal" fill="#1a1a1a" stroke="#1a1a1a" stroke-width="0.12" ></text>
<line x1="143.30" y1="317.60" x2="143.30" y2="320.60" stroke="#000" stroke-width="0.9" />
<text transform="translate(143.30,0.00)" font-size="7.9" text-anchor="middle" font-weight="normal" fill="#1a1a1a" stroke="#1a1a1a" stroke-width="0.12" ></text>
<line x1="191.90" y1="317.60" x2="191.90" y2="320.60" stroke="#000" stroke-width="0.9" />
<text transform="translate(191.90,0.00)" font-size="7.9" text-anchor="middle" font-weight="normal" fill="#1a1a1a" stroke="#1a1a1a" stroke-width="0.12" ></text>
<text transform="translate(33.60,254.50) rotate(-90) scale(0.625,1)" font-size="10.0" text-anchor="middle" font-weight="normal" fill="#1a1a1a" stroke="#1a1a1a" stroke-width="0.42" >Contribution to lost ASVs</text>
<circle cx="242.1" cy="241.3" r="1.9" fill="#C8102E"/>
<text transform="translate(246.60,243.90)" font-size="6.95" text-anchor="start" font-weight="normal" fill="#1a1a1a" stroke="#1a1a1a" stroke-width="0.1" >Bacteroides</text>
<circle cx="242.1" cy="251.4" r="1.9" fill="#2DB83D"/>
<text transform="translate(246.60,254.00)" font-size="6.95" text-anchor="start" font-weight="normal" fill="#1a1a1a" stroke="#1a1a1a" stroke-width="0.1" >Alistipes</text>
<circle cx="242.1" cy="261.5" r="1.9" fill="#0B4F8C"/>
<text transform="translate(246.60,264.10)" font-size="6.95" text-anchor="start" font-weight="normal" fill="#1a1a1a" stroke="#1a1a1a" stroke-width="0.1" >Faecalibacterium</text>
<rect x="371.20" y="199.34" width="22.00" height="62.26" fill="#DC8092"/>
<line x1="382.20" y1="186.31" x2="382.20" y2="299.62" stroke="#333" stroke-width="1.3" />
<line x1="375.20" y1="186.31" x2="389.20" y2="186.31" stroke="#444" stroke-width="1.3" />
<line x1="375.20" y1="299.62" x2="389.20" y2="299.62" stroke="#444" stroke-width="1.3" />
<line x1="371.20" y1="233.37" x2="393.20" y2="233.37" stroke="#000" stroke-width="1.6" />
<rect x="419.80" y="270.66" width="22.00" height="40.54" fill="#A3DDA4"/>
<line x1="430.80" y1="215.27" x2="430.80" y2="311.20" stroke="#333" stroke-width="1.3" />
<line x1="423.80" y1="215.27" x2="437.80" y2="215.27" stroke="#444" stroke-width="1.3" />
<line x1="423.80" y1="311.20" x2="437.80" y2="311.20" stroke="#444" stroke-width="1.3" />
<line x1="419.80" y1="302.15" x2="441.80" y2="302.15" stroke="#000" stroke-width="1.6" />
<rect x="468.30" y="284.41" width="22.00" height="26.79" fill="#8AA9C8"/>
<line x1="479.30" y1="275.72" x2="479.30" y2="311.20" stroke="#333" stroke-width="1.3" />
<line x1="472.30" y1="275.72" x2="486.30" y2="275.72" stroke="#444" stroke-width="1.3" />
<line x1="472.30" y1="311.20" x2="486.30" y2="311.20" stroke="#444" stroke-width="1.3" />
<line x1="468.30" y1="299.25" x2="490.30" y2="299.25" stroke="#000" stroke-width="1.6" />
<g fill="#C8102E"><circle cx="385.40" cy="185.40" r="2.05"/><circle cx="387.20" cy="186.50" r="2.05"/><circle cx="375.00" cy="199.70" r="2.05"/><circle cx="378.50" cy="198.50" r="2.05"/><circle cx="380.30" cy="198.80" r="2.05"/><circle cx="383.10" cy="205.00" r="2.05"/><circle cx="380.50" cy="219.50" r="2.05"/><circle cx="382.40" cy="231.50" r="2.05"/><circle cx="381.90" cy="235.00" r="2.05"/><circle cx="386.10" cy="235.50" r="2.05"/><circle cx="380.80" cy="259.20" r="2.05"/><circle cx="384.50" cy="259.50" r="2.05"/><circle cx="380.30" cy="260.40" r="2.05"/><circle cx="375.00" cy="269.20" r="2.05"/><circle cx="380.10" cy="268.00" r="2.05"/><circle cx="384.50" cy="282.50" r="2.05"/><circle cx="382.40" cy="299.60" r="2.05"/></g>
<g fill="#2DB83D"><circle cx="433.00" cy="215.75" r="2.05"/><circle cx="425.75" cy="258.50" r="2.05"/><circle cx="437.00" cy="254.00" r="2.05"/><circle cx="425.75" cy="268.25" r="2.05"/><circle cx="437.50" cy="271.50" r="2.05"/><circle cx="427.00" cy="289.50" r="2.05"/><circle cx="431.25" cy="289.25" r="2.05"/><circle cx="430.00" cy="294.50" r="2.05"/><circle cx="431.25" cy="298.25" r="2.05"/><circle cx="435.00" cy="305.75" r="2.05"/><circle cx="425.00" cy="311.00" r="2.05"/><circle cx="427.50" cy="311.00" r="2.05"/><circle cx="430.00" cy="311.00" r="2.05"/><circle cx="432.50" cy="311.00" r="2.05"/><circle cx="435.00" cy="311.00" r="2.05"/><circle cx="437.00" cy="311.00" r="2.05"/></g>
<g fill="#0B4F8C"><circle cx="479.25" cy="195.00" r="2.05"/><circle cx="483.75" cy="195.00" r="2.05"/><circle cx="475.50" cy="275.75" r="2.05"/><circle cx="478.00" cy="279.00" r="2.05"/><circle cx="483.25" cy="279.00" r="2.05"/><circle cx="475.00" cy="286.50" r="2.05"/><circle cx="478.75" cy="286.50" r="2.05"/><circle cx="479.25" cy="292.00" r="2.05"/><circle cx="484.25" cy="297.50" r="2.05"/><circle cx="482.50" cy="299.50" r="2.05"/><circle cx="480.00" cy="302.00" r="2.05"/><circle cx="473.00" cy="311.00" r="2.05"/><circle cx="475.50" cy="311.00" r="2.05"/><circle cx="478.00" cy="311.00" r="2.05"/><circle cx="481.00" cy="311.00" r="2.05"/><circle cx="484.00" cy="311.00" r="2.05"/><circle cx="486.00" cy="311.00" r="2.05"/></g>
<line x1="348.50" y1="184.20" x2="348.50" y2="317.80" stroke="#000" stroke-width="1.15" />
<line x1="345.30" y1="311.20" x2="348.50" y2="311.20" stroke="#000" stroke-width="0.9" />
<text transform="translate(342.00,314.00)" font-size="7.9" text-anchor="end" font-weight="normal" fill="#1a1a1a" stroke="#1a1a1a" stroke-width="0.12" >0.0</text>
<line x1="345.30" y1="275.00" x2="348.50" y2="275.00" stroke="#000" stroke-width="0.9" />
<text transform="translate(342.00,277.80)" font-size="7.9" text-anchor="end" font-weight="normal" fill="#1a1a1a" stroke="#1a1a1a" stroke-width="0.12" >0.1</text>
<line x1="345.30" y1="238.80" x2="348.50" y2="238.80" stroke="#000" stroke-width="0.9" />
<text transform="translate(342.00,241.60)" font-size="7.9" text-anchor="end" font-weight="normal" fill="#1a1a1a" stroke="#1a1a1a" stroke-width="0.12" >0.2</text>
<line x1="345.30" y1="202.60" x2="348.50" y2="202.60" stroke="#000" stroke-width="0.9" />
<text transform="translate(342.00,205.40)" font-size="7.9" text-anchor="end" font-weight="normal" fill="#1a1a1a" stroke="#1a1a1a" stroke-width="0.12" >0.3</text>
<line x1="348.00" y1="317.60" x2="513.80" y2="317.60" stroke="#000" stroke-width="1.15" />
<line x1="382.20" y1="317.60" x2="382.20" y2="320.60" stroke="#000" stroke-width="0.9" />
<text transform="translate(382.20,0.00)" font-size="7.9" text-anchor="middle" font-weight="normal" fill="#1a1a1a" stroke="#1a1a1a" stroke-width="0.12" ></text>
<line x1="430.80" y1="317.60" x2="430.80" y2="320.60" stroke="#000" stroke-width="0.9" />
<text transform="translate(430.80,0.00)" font-size="7.9" text-anchor="middle" font-weight="normal" fill="#1a1a1a" stroke="#1a1a1a" stroke-width="0.12" ></text>
<line x1="479.30" y1="317.60" x2="479.30" y2="320.60" stroke="#000" stroke-width="0.9" />
<text transform="translate(479.30,0.00)" font-size="7.9" text-anchor="middle" font-weight="normal" fill="#1a1a1a" stroke="#1a1a1a" stroke-width="0.12" ></text>
<text transform="translate(325.40,248.05) rotate(-90) scale(0.625,1)" font-size="10.0" text-anchor="middle" font-weight="normal" fill="#1a1a1a" stroke="#1a1a1a" stroke-width="0.42" >Contribution to gained ASVs</text>
</g>
<g id="H">
<text transform="translate(6.90,343.10)" font-size="11" text-anchor="start" font-weight="bold" fill="#000" >H</text>
<line x1="60.20" y1="480.50" x2="86.20" y2="480.50" stroke="#000" stroke-width="1.0" />
<line x1="67.58" y1="480.50" x2="67.58" y2="483.50" stroke="#000" stroke-width="0.9" />
<text transform="translate(67.58,492.20)" font-size="7.9" text-anchor="middle" font-weight="normal" fill="#1a1a1a" stroke="#1a1a1a" stroke-width="0.12" >BL</text>
<line x1="79.22" y1="480.50" x2="79.22" y2="483.50" stroke="#000" stroke-width="0.9" />
<text transform="translate(79.22,492.20)" font-size="7.9" text-anchor="middle" font-weight="normal" fill="#1a1a1a" stroke="#1a1a1a" stroke-width="0.12" >LT</text>
<line x1="89.85" y1="480.50" x2="115.45" y2="480.50" stroke="#000" stroke-width="1.0" />
<line x1="96.83" y1="480.50" x2="96.83" y2="483.50" stroke="#000" stroke-width="0.9" />
<text transform="translate(96.83,492.20)" font-size="7.9" text-anchor="middle" font-weight="normal" fill="#1a1a1a" stroke="#1a1a1a" stroke-width="0.12" >BL</text>
<line x1="108.47" y1="480.50" x2="108.47" y2="483.50" stroke="#000" stroke-width="0.9" />
<text transform="translate(108.47,492.20)" font-size="7.9" text-anchor="middle" font-weight="normal" fill="#1a1a1a" stroke="#1a1a1a" stroke-width="0.12" >LT</text>
<line x1="119.10" y1="480.50" x2="144.70" y2="480.50" stroke="#000" stroke-width="1.0" />
<line x1="126.08" y1="480.50" x2="126.08" y2="483.50" stroke="#000" stroke-width="0.9" />
<text transform="translate(126.08,492.20)" font-size="7.9" text-anchor="middle" font-weight="normal" fill="#1a1a1a" stroke="#1a1a1a" stroke-width="0.12" >BL</text>
<line x1="137.72" y1="480.50" x2="137.72" y2="483.50" stroke="#000" stroke-width="0.9" />
<text transform="translate(137.72,492.20)" font-size="7.9" text-anchor="middle" font-weight="normal" fill="#1a1a1a" stroke="#1a1a1a" stroke-width="0.12" >LT</text>
<line x1="148.35" y1="480.50" x2="173.95" y2="480.50" stroke="#000" stroke-width="1.0" />
<line x1="155.33" y1="480.50" x2="155.33" y2="483.50" stroke="#000" stroke-width="0.9" />
<text transform="translate(155.33,492.20)" font-size="7.9" text-anchor="middle" font-weight="normal" fill="#1a1a1a" stroke="#1a1a1a" stroke-width="0.12" >BL</text>
<line x1="166.97" y1="480.50" x2="166.97" y2="483.50" stroke="#000" stroke-width="0.9" />
<text transform="translate(166.97,492.20)" font-size="7.9" text-anchor="middle" font-weight="normal" fill="#1a1a1a" stroke="#1a1a1a" stroke-width="0.12" >LT</text>
<line x1="177.60" y1="480.50" x2="203.20" y2="480.50" stroke="#000" stroke-width="1.0" />
<line x1="184.58" y1="480.50" x2="184.58" y2="483.50" stroke="#000" stroke-width="0.9" />
<text transform="translate(184.58,492.20)" font-size="7.9" text-anchor="middle" font-weight="normal" fill="#1a1a1a" stroke="#1a1a1a" stroke-width="0.12" >BL</text>
<line x1="196.22" y1="480.50" x2="196.22" y2="483.50" stroke="#000" stroke-width="0.9" />
<text transform="translate(196.22,492.20)" font-size="7.9" text-anchor="middle" font-weight="normal" fill="#1a1a1a" stroke="#1a1a1a" stroke-width="0.12" >LT</text>
<line x1="206.85" y1="480.50" x2="232.45" y2="480.50" stroke="#000" stroke-width="1.0" />
<line x1="213.83" y1="480.50" x2="213.83" y2="483.50" stroke="#000" stroke-width="0.9" />
<text transform="translate(213.83,492.20)" font-size="7.9" text-anchor="middle" font-weight="normal" fill="#1a1a1a" stroke="#1a1a1a" stroke-width="0.12" >BL</text>
<line x1="225.47" y1="480.50" x2="225.47" y2="483.50" stroke="#000" stroke-width="0.9" />
<text transform="translate(225.47,492.20)" font-size="7.9" text-anchor="middle" font-weight="normal" fill="#1a1a1a" stroke="#1a1a1a" stroke-width="0.12" >LT</text>
<line x1="236.10" y1="480.50" x2="261.70" y2="480.50" stroke="#000" stroke-width="1.0" />
<line x1="243.08" y1="480.50" x2="243.08" y2="483.50" stroke="#000" stroke-width="0.9" />
<text transform="translate(243.08,492.20)" font-size="7.9" text-anchor="middle" font-weight="normal" fill="#1a1a1a" stroke="#1a1a1a" stroke-width="0.12" >BL</text>
<line x1="254.72" y1="480.50" x2="254.72" y2="483.50" stroke="#000" stroke-width="0.9" />
<text transform="translate(254.72,492.20)" font-size="7.9" text-anchor="middle" font-weight="normal" fill="#1a1a1a" stroke="#1a1a1a" stroke-width="0.12" >LT</text>
<line x1="265.35" y1="480.50" x2="290.95" y2="480.50" stroke="#000" stroke-width="1.0" />
<line x1="272.33" y1="480.50" x2="272.33" y2="483.50" stroke="#000" stroke-width="0.9" />
<text transform="translate(272.33,492.20)" font-size="7.9" text-anchor="middle" font-weight="normal" fill="#1a1a1a" stroke="#1a1a1a" stroke-width="0.12" >BL</text>
<line x1="283.97" y1="480.50" x2="283.97" y2="483.50" stroke="#000" stroke-width="0.9" />
<text transform="translate(283.97,492.20)" font-size="7.9" text-anchor="middle" font-weight="normal" fill="#1a1a1a" stroke="#1a1a1a" stroke-width="0.12" >LT</text>
<rect x="62.36" y="361.40" width="10.45" height="9.20" fill="#D69100"/><rect x="62.36" y="369.90" width="10.45" height="81.40" fill="#B4A000"/><rect x="62.36" y="450.60" width="10.45" height="2.40" fill="#9EA700"/><rect x="62.36" y="452.30" width="10.45" height="12.70" fill="#00C088"/><rect x="62.36" y="464.30" width="10.45" height="2.40" fill="#8794FF"/><rect x="62.36" y="466.00" width="10.45" height="3.70" fill="#CE79FF"/><rect x="62.36" y="469.00" width="10.45" height="4.70" fill="#FC61D4"/><rect x="62.36" y="473.00" width="10.45" height="1.20" fill="#FF67A6"/><rect x="73.99" y="351.50" width="10.45" height="13.70" fill="#D69100"/><rect x="73.99" y="364.50" width="10.45" height="67.20" fill="#B4A000"/><rect x="73.99" y="431.00" width="10.45" height="19.20" fill="#83AD00"/><rect x="73.99" y="449.50" width="10.45" height="9.40" fill="#00C1A2"/><rect x="73.99" y="458.20" width="10.45" height="15.50" fill="#00BECF"/><rect x="73.99" y="473.00" width="10.45" height="1.20" fill="#FC61D4"/><rect x="91.61" y="435.30" width="10.45" height="8.20" fill="#C69900"/><rect x="91.61" y="442.80" width="10.45" height="15.60" fill="#60B200"/><rect x="91.61" y="457.70" width="10.45" height="16.50" fill="#00B9E1"/><rect x="103.24" y="352.70" width="10.45" height="17.20" fill="#E48800"/><rect x="103.24" y="369.20" width="10.45" height="17.90" fill="#D69100"/><rect x="103.24" y="386.40" width="10.45" height="42.50" fill="#B4A000"/><rect x="103.24" y="428.20" width="10.45" height="4.70" fill="#83AD00"/><rect x="103.24" y="432.20" width="10.45" height="11.60" fill="#00C088"/><rect x="103.24" y="443.10" width="10.45" height="8.20" fill="#00ABFD"/><rect x="103.24" y="450.60" width="10.45" height="10.20" fill="#46A0FF"/><rect x="103.24" y="460.10" width="10.45" height="12.00" fill="#B086FF"/><rect x="103.24" y="471.40" width="10.45" height="2.80" fill="#FC61D4"/><rect x="120.86" y="435.30" width="10.45" height="7.80" fill="#C69900"/><rect x="120.86" y="442.40" width="10.45" height="12.90" fill="#60B200"/><rect x="120.86" y="454.60" width="10.45" height="18.00" fill="#00B9E1"/><rect x="120.86" y="471.90" width="10.45" height="2.30" fill="#FF67A6"/><rect x="132.49" y="357.90" width="10.45" height="5.60" fill="#EF7F48"/><rect x="132.49" y="362.80" width="10.45" height="88.50" fill="#B4A000"/><rect x="132.49" y="450.60" width="10.45" height="5.90" fill="#83AD00"/><rect x="132.49" y="455.80" width="10.45" height="10.90" fill="#00C1A2"/><rect x="132.49" y="466.00" width="10.45" height="8.20" fill="#F365E6"/><rect x="150.11" y="372.00" width="10.45" height="15.10" fill="#D69100"/><rect x="150.11" y="386.40" width="10.45" height="40.20" fill="#B4A000"/><rect x="150.11" y="425.90" width="10.45" height="10.80" fill="#9EA700"/><rect x="150.11" y="436.00" width="10.45" height="5.90" fill="#00C1A2"/><rect x="150.11" y="441.20" width="10.45" height="4.90" fill="#46A0FF"/><rect x="150.11" y="445.40" width="10.45" height="4.30" fill="#8794FF"/><rect x="150.11" y="449.00" width="10.45" height="9.40" fill="#CE79FF"/><rect x="150.11" y="457.70" width="10.45" height="16.50" fill="#FC61D4"/><rect x="161.74" y="344.40" width="10.45" height="30.90" fill="#EF7F48"/><rect x="161.74" y="374.60" width="10.45" height="10.20" fill="#B4A000"/><rect x="161.74" y="384.10" width="10.45" height="24.30" fill="#00C1A2"/><rect x="161.74" y="407.70" width="10.45" height="30.00" fill="#00BECF"/><rect x="161.74" y="437.00" width="10.45" height="12.70" fill="#46A0FF"/><rect x="161.74" y="449.00" width="10.45" height="25.20" fill="#FC61D4"/><rect x="179.36" y="363.30" width="10.45" height="2.60" fill="#EF7F48"/><rect x="179.36" y="365.20" width="10.45" height="7.10" fill="#D69100"/><rect x="179.36" y="371.60" width="10.45" height="56.80" fill="#B4A000"/><rect x="179.36" y="427.70" width="10.45" height="9.90" fill="#19B700"/><rect x="179.36" y="436.90" width="10.45" height="7.80" fill="#00C088"/><rect x="179.36" y="444.00" width="10.45" height="7.30" fill="#46A0FF"/><rect x="179.36" y="450.60" width="10.45" height="16.10" fill="#E46DF6"/><rect x="179.36" y="466.00" width="10.45" height="8.20" fill="#FF62BE"/><rect x="190.99" y="350.80" width="10.45" height="15.60" fill="#D69100"/><rect x="190.99" y="365.70" width="10.45" height="58.00" fill="#B4A000"/><rect x="190.99" y="423.00" width="10.45" height="5.90" fill="#83AD00"/><rect x="190.99" y="428.20" width="10.45" height="6.60" fill="#19B700"/><rect x="190.99" y="434.10" width="10.45" height="7.10" fill="#00C088"/><rect x="190.99" y="440.50" width="10.45" height="10.80" fill="#46A0FF"/><rect x="190.99" y="450.60" width="10.45" height="10.20" fill="#CE79FF"/><rect x="190.99" y="460.10" width="10.45" height="14.10" fill="#FC61D4"/><rect x="208.61" y="344.90" width="10.45" height="2.60" fill="#D69100"/><rect x="208.61" y="346.80" width="10.45" height="56.20" fill="#B4A000"/><rect x="208.61" y="402.30" width="10.45" height="2.50" fill="#19B700"/><rect x="208.61" y="404.10" width="10.45" height="17.00" fill="#00BECF"/><rect x="208.61" y="420.40" width="10.45" height="14.90" fill="#46A0FF"/><rect x="208.61" y="434.60" width="10.45" height="24.30" fill="#8794FF"/><rect x="208.61" y="458.20" width="10.45" height="6.80" fill="#B086FF"/><rect x="208.61" y="464.30" width="10.45" height="9.90" fill="#CE79FF"/><rect x="220.24" y="348.00" width="10.45" height="1.90" fill="#EF7F48"/><rect x="220.24" y="349.20" width="10.45" height="11.30" fill="#D69100"/><rect x="220.24" y="359.80" width="10.45" height="60.40" fill="#B4A000"/><rect x="220.24" y="419.50" width="10.45" height="4.00" fill="#83AD00"/><rect x="220.24" y="422.80" width="10.45" height="3.80" fill="#19B700"/><rect x="220.24" y="425.90" width="10.45" height="4.20" fill="#00B3F1"/><rect x="220.24" y="429.40" width="10.45" height="13.70" fill="#46A0FF"/><rect x="220.24" y="442.40" width="10.45" height="6.10" fill="#8794FF"/><rect x="220.24" y="447.80" width="10.45" height="10.60" fill="#CE79FF"/><rect x="220.24" y="457.70" width="10.45" height="16.50" fill="#FC61D4"/><rect x="237.86" y="371.10" width="10.45" height="12.50" fill="#E48800"/><rect x="237.86" y="382.90" width="10.45" height="8.70" fill="#D69100"/><rect x="237.86" y="390.90" width="10.45" height="21.50" fill="#B4A000"/><rect x="237.86" y="411.70" width="10.45" height="19.60" fill="#9EA700"/><rect x="237.86" y="430.60" width="10.45" height="14.40" fill="#19B700"/><rect x="237.86" y="444.30" width="10.45" height="10.60" fill="#46A0FF"/><rect x="237.86" y="454.20" width="10.45" height="17.90" fill="#E46DF6"/><rect x="237.86" y="471.40" width="10.45" height="2.80" fill="#FF62BE"/><rect x="249.49" y="351.50" width="10.45" height="3.10" fill="#D69100"/><rect x="249.49" y="353.90" width="10.45" height="85.60" fill="#B4A000"/><rect x="249.49" y="438.80" width="10.45" height="16.80" fill="#00BB48"/><rect x="249.49" y="454.90" width="10.45" height="7.10" fill="#00C0BA"/><rect x="249.49" y="461.30" width="10.45" height="10.10" fill="#46A0FF"/><rect x="249.49" y="470.70" width="10.45" height="3.50" fill="#F365E6"/><rect x="267.11" y="358.60" width="10.45" height="78.60" fill="#B4A000"/><rect x="267.11" y="436.50" width="10.45" height="19.60" fill="#00BE6B"/><rect x="267.11" y="455.40" width="10.45" height="7.70" fill="#00C1A2"/><rect x="267.11" y="462.40" width="10.45" height="7.10" fill="#00B3F1"/><rect x="267.11" y="468.80" width="10.45" height="5.40" fill="#FF62BE"/><rect x="278.74" y="355.80" width="10.45" height="42.40" fill="#E48800"/><rect x="278.74" y="397.50" width="10.45" height="47.90" fill="#B4A000"/><rect x="278.74" y="444.70" width="10.45" height="3.80" fill="#83AD00"/><rect x="278.74" y="447.80" width="10.45" height="10.60" fill="#00BE6B"/><rect x="278.74" y="457.70" width="10.45" height="6.60" fill="#00ABFD"/><rect x="278.74" y="463.60" width="10.45" height="5.40" fill="#E46DF6"/><rect x="278.74" y="468.30" width="10.45" height="5.90" fill="#FF67A6"/>
<line x1="60.90" y1="335.20" x2="60.90" y2="481.00" stroke="#000" stroke-width="1.15" />
<line x1="57.70" y1="474.20" x2="60.90" y2="474.20" stroke="#000" stroke-width="0.9" />
<text transform="translate(54.40,477.00)" font-size="7.9" text-anchor="end" font-weight="normal" fill="#1a1a1a" stroke="#1a1a1a" stroke-width="0.12" >0.00</text>
<line x1="57.70" y1="440.25" x2="60.90" y2="440.25" stroke="#000" stroke-width="0.9" />
<text transform="translate(54.40,443.05)" font-size="7.9" text-anchor="end" font-weight="normal" fill="#1a1a1a" stroke="#1a1a1a" stroke-width="0.12" >0.25</text>
<line x1="57.70" y1="406.30" x2="60.90" y2="406.30" stroke="#000" stroke-width="0.9" />
<text transform="translate(54.40,409.10)" font-size="7.9" text-anchor="end" font-weight="normal" fill="#1a1a1a" stroke="#1a1a1a" stroke-width="0.12" >0.50</text>
<line x1="57.70" y1="372.35" x2="60.90" y2="372.35" stroke="#000" stroke-width="0.9" />
<text transform="translate(54.40,375.15)" font-size="7.9" text-anchor="end" font-weight="normal" fill="#1a1a1a" stroke="#1a1a1a" stroke-width="0.12" >0.75</text>
<line x1="57.70" y1="338.40" x2="60.90" y2="338.40" stroke="#000" stroke-width="0.9" />
<text transform="translate(54.40,341.20)" font-size="7.9" text-anchor="end" font-weight="normal" fill="#1a1a1a" stroke="#1a1a1a" stroke-width="0.12" >1.00</text>
<text transform="translate(179.60,502.30) scale(0.64,1)" font-size="9.8" text-anchor="middle" font-weight="normal" fill="#1a1a1a" stroke="#1a1a1a" stroke-width="0.42" >Timepoint</text>
<line x1="60.20" y1="648.40" x2="86.20" y2="648.40" stroke="#000" stroke-width="1.0" />
<line x1="67.58" y1="648.40" x2="67.58" y2="651.40" stroke="#000" stroke-width="0.9" />
<text transform="translate(67.58,660.30)" font-size="7.9" text-anchor="middle" font-weight="normal" fill="#1a1a1a" stroke="#1a1a1a" stroke-width="0.12" >BL</text>
<line x1="79.22" y1="648.40" x2="79.22" y2="651.40" stroke="#000" stroke-width="0.9" />
<text transform="translate(79.22,660.30)" font-size="7.9" text-anchor="middle" font-weight="normal" fill="#1a1a1a" stroke="#1a1a1a" stroke-width="0.12" >LT</text>
<line x1="89.85" y1="648.40" x2="115.45" y2="648.40" stroke="#000" stroke-width="1.0" />
<line x1="96.83" y1="648.40" x2="96.83" y2="651.40" stroke="#000" stroke-width="0.9" />
<text transform="translate(96.83,660.30)" font-size="7.9" text-anchor="middle" font-weight="normal" fill="#1a1a1a" stroke="#1a1a1a" stroke-width="0.12" >BL</text>
<line x1="108.47" y1="648.40" x2="108.47" y2="651.40" stroke="#000" stroke-width="0.9" />
<text transform="translate(108.47,660.30)" font-size="7.9" text-anchor="middle" font-weight="normal" fill="#1a1a1a" stroke="#1a1a1a" stroke-width="0.12" >LT</text>
<line x1="119.10" y1="648.40" x2="144.70" y2="648.40" stroke="#000" stroke-width="1.0" />
<line x1="126.08" y1="648.40" x2="126.08" y2="651.40" stroke="#000" stroke-width="0.9" />
<text transform="translate(126.08,660.30)" font-size="7.9" text-anchor="middle" font-weight="normal" fill="#1a1a1a" stroke="#1a1a1a" stroke-width="0.12" >BL</text>
<line x1="137.72" y1="648.40" x2="137.72" y2="651.40" stroke="#000" stroke-width="0.9" />
<text transform="translate(137.72,660.30)" font-size="7.9" text-anchor="middle" font-weight="normal" fill="#1a1a1a" stroke="#1a1a1a" stroke-width="0.12" >LT</text>
<line x1="148.35" y1="648.40" x2="173.95" y2="648.40" stroke="#000" stroke-width="1.0" />
<line x1="155.33" y1="648.40" x2="155.33" y2="651.40" stroke="#000" stroke-width="0.9" />
<text transform="translate(155.33,660.30)" font-size="7.9" text-anchor="middle" font-weight="normal" fill="#1a1a1a" stroke="#1a1a1a" stroke-width="0.12" >BL</text>
<line x1="166.97" y1="648.40" x2="166.97" y2="651.40" stroke="#000" stroke-width="0.9" />
<text transform="translate(166.97,660.30)" font-size="7.9" text-anchor="middle" font-weight="normal" fill="#1a1a1a" stroke="#1a1a1a" stroke-width="0.12" >LT</text>
<line x1="177.60" y1="648.40" x2="203.20" y2="648.40" stroke="#000" stroke-width="1.0" />
<line x1="184.58" y1="648.40" x2="184.58" y2="651.40" stroke="#000" stroke-width="0.9" />
<text transform="translate(184.58,660.30)" font-size="7.9" text-anchor="middle" font-weight="normal" fill="#1a1a1a" stroke="#1a1a1a" stroke-width="0.12" >BL</text>
<line x1="196.22" y1="648.40" x2="196.22" y2="651.40" stroke="#000" stroke-width="0.9" />
<text transform="translate(196.22,660.30)" font-size="7.9" text-anchor="middle" font-weight="normal" fill="#1a1a1a" stroke="#1a1a1a" stroke-width="0.12" >LT</text>
<line x1="206.85" y1="648.40" x2="232.45" y2="648.40" stroke="#000" stroke-width="1.0" />
<line x1="213.83" y1="648.40" x2="213.83" y2="651.40" stroke="#000" stroke-width="0.9" />
<text transform="translate(213.83,660.30)" font-size="7.9" text-anchor="middle" font-weight="normal" fill="#1a1a1a" stroke="#1a1a1a" stroke-width="0.12" >BL</text>
<line x1="225.47" y1="648.40" x2="225.47" y2="651.40" stroke="#000" stroke-width="0.9" />
<text transform="translate(225.47,660.30)" font-size="7.9" text-anchor="middle" font-weight="normal" fill="#1a1a1a" stroke="#1a1a1a" stroke-width="0.12" >LT</text>
<line x1="236.10" y1="648.40" x2="261.70" y2="648.40" stroke="#000" stroke-width="1.0" />
<line x1="243.08" y1="648.40" x2="243.08" y2="651.40" stroke="#000" stroke-width="0.9" />
<text transform="translate(243.08,660.30)" font-size="7.9" text-anchor="middle" font-weight="normal" fill="#1a1a1a" stroke="#1a1a1a" stroke-width="0.12" >BL</text>
<line x1="254.72" y1="648.40" x2="254.72" y2="651.40" stroke="#000" stroke-width="0.9" />
<text transform="translate(254.72,660.30)" font-size="7.9" text-anchor="middle" font-weight="normal" fill="#1a1a1a" stroke="#1a1a1a" stroke-width="0.12" >LT</text>
<line x1="265.35" y1="648.40" x2="290.95" y2="648.40" stroke="#000" stroke-width="1.0" />
<line x1="272.33" y1="648.40" x2="272.33" y2="651.40" stroke="#000" stroke-width="0.9" />
<text transform="translate(272.33,660.30)" font-size="7.9" text-anchor="middle" font-weight="normal" fill="#1a1a1a" stroke="#1a1a1a" stroke-width="0.12" >BL</text>
<line x1="283.97" y1="648.40" x2="283.97" y2="651.40" stroke="#000" stroke-width="0.9" />
<text transform="translate(283.97,660.30)" font-size="7.9" text-anchor="middle" font-weight="normal" fill="#1a1a1a" stroke="#1a1a1a" stroke-width="0.12" >LT</text>
<rect x="62.36" y="521.70" width="10.45" height="17.90" fill="#F8766D"/><rect x="62.36" y="538.90" width="10.45" height="5.50" fill="#EF7F48"/><rect x="62.36" y="543.70" width="10.45" height="8.40" fill="#E48800"/><rect x="62.36" y="551.40" width="10.45" height="56.00" fill="#B4A000"/><rect x="62.36" y="606.70" width="10.45" height="5.40" fill="#83AD00"/><rect x="62.36" y="611.40" width="10.45" height="9.20" fill="#19B700"/><rect x="62.36" y="619.90" width="10.45" height="13.00" fill="#00C088"/><rect x="62.36" y="632.20" width="10.45" height="8.20" fill="#46A0FF"/><rect x="62.36" y="639.70" width="10.45" height="2.60" fill="#F365E6"/><rect x="73.99" y="537.00" width="10.45" height="10.40" fill="#F8766D"/><rect x="73.99" y="546.70" width="10.45" height="9.50" fill="#E48800"/><rect x="73.99" y="555.50" width="10.45" height="54.20" fill="#B4A000"/><rect x="73.99" y="609.00" width="10.45" height="6.20" fill="#19B700"/><rect x="73.99" y="614.50" width="10.45" height="9.40" fill="#00C088"/><rect x="73.99" y="623.20" width="10.45" height="11.50" fill="#46A0FF"/><rect x="73.99" y="634.00" width="10.45" height="8.30" fill="#FC61D4"/><rect x="91.61" y="523.60" width="10.45" height="5.40" fill="#D69100"/><rect x="91.61" y="528.30" width="10.45" height="67.30" fill="#B4A000"/><rect x="91.61" y="594.90" width="10.45" height="2.60" fill="#19B700"/><rect x="91.61" y="596.80" width="10.45" height="17.60" fill="#00C088"/><rect x="91.61" y="613.70" width="10.45" height="14.40" fill="#00B3F1"/><rect x="91.61" y="627.40" width="10.45" height="4.30" fill="#46A0FF"/><rect x="91.61" y="631.00" width="10.45" height="11.30" fill="#FC61D4"/><rect x="103.24" y="533.00" width="10.45" height="3.60" fill="#EF7F48"/><rect x="103.24" y="535.90" width="10.45" height="61.60" fill="#B4A000"/><rect x="103.24" y="596.80" width="10.45" height="12.50" fill="#9EA700"/><rect x="103.24" y="608.60" width="10.45" height="10.10" fill="#00C088"/><rect x="103.24" y="618.00" width="10.45" height="19.10" fill="#46A0FF"/><rect x="103.24" y="636.40" width="10.45" height="5.90" fill="#E46DF6"/><rect x="120.86" y="542.00" width="10.45" height="6.40" fill="#E48800"/><rect x="120.86" y="547.70" width="10.45" height="9.20" fill="#D69100"/><rect x="120.86" y="556.20" width="10.45" height="39.40" fill="#B4A000"/><rect x="120.86" y="594.90" width="10.45" height="3.70" fill="#60B200"/><rect x="120.86" y="597.90" width="10.45" height="10.20" fill="#00BE6B"/><rect x="120.86" y="607.40" width="10.45" height="7.80" fill="#00C1A2"/><rect x="120.86" y="614.50" width="10.45" height="3.00" fill="#00B3F1"/><rect x="120.86" y="616.80" width="10.45" height="14.90" fill="#46A0FF"/><rect x="120.86" y="631.00" width="10.45" height="4.70" fill="#CE79FF"/><rect x="120.86" y="635.00" width="10.45" height="7.30" fill="#FC61D4"/><rect x="132.49" y="522.90" width="10.45" height="3.30" fill="#F8766D"/><rect x="132.49" y="525.50" width="10.45" height="10.10" fill="#D69100"/><rect x="132.49" y="534.90" width="10.45" height="60.20" fill="#B4A000"/><rect x="132.49" y="594.40" width="10.45" height="5.40" fill="#9EA700"/><rect x="132.49" y="599.10" width="10.45" height="5.40" fill="#00C088"/><rect x="132.49" y="603.80" width="10.45" height="4.30" fill="#00B3F1"/><rect x="132.49" y="607.40" width="10.45" height="6.60" fill="#46A0FF"/><rect x="132.49" y="613.30" width="10.45" height="12.00" fill="#8794FF"/><rect x="132.49" y="624.60" width="10.45" height="5.90" fill="#CE79FF"/><rect x="132.49" y="629.80" width="10.45" height="12.50" fill="#F365E6"/><rect x="150.11" y="519.40" width="10.45" height="11.50" fill="#D69100"/><rect x="150.11" y="530.20" width="10.45" height="55.90" fill="#B4A000"/><rect x="150.11" y="585.40" width="10.45" height="6.20" fill="#83AD00"/><rect x="150.11" y="590.90" width="10.45" height="4.20" fill="#00C088"/><rect x="150.11" y="594.40" width="10.45" height="16.00" fill="#00C0BA"/><rect x="150.11" y="609.70" width="10.45" height="10.20" fill="#00ABFD"/><rect x="150.11" y="619.20" width="10.45" height="17.90" fill="#46A0FF"/><rect x="150.11" y="636.40" width="10.45" height="5.90" fill="#F365E6"/><rect x="161.74" y="534.70" width="10.45" height="9.70" fill="#D69100"/><rect x="161.74" y="543.70" width="10.45" height="55.60" fill="#B4A000"/><rect x="161.74" y="598.60" width="10.45" height="4.00" fill="#83AD00"/><rect x="161.74" y="601.90" width="10.45" height="11.60" fill="#00C088"/><rect x="161.74" y="612.80" width="10.45" height="3.50" fill="#00C1A2"/><rect x="161.74" y="615.60" width="10.45" height="5.90" fill="#00B3F1"/><rect x="161.74" y="620.80" width="10.45" height="13.20" fill="#46A0FF"/><rect x="161.74" y="633.30" width="10.45" height="9.00" fill="#FF67A6"/><rect x="179.36" y="527.10" width="10.45" height="1.40" fill="#EF7F48"/><rect x="179.36" y="527.80" width="10.45" height="35.40" fill="#E48800"/><rect x="179.36" y="562.50" width="10.45" height="52.70" fill="#B4A000"/><rect x="179.36" y="614.50" width="10.45" height="3.70" fill="#83AD00"/><rect x="179.36" y="617.50" width="10.45" height="4.70" fill="#19B700"/><rect x="179.36" y="621.50" width="10.45" height="5.50" fill="#00C088"/><rect x="179.36" y="626.30" width="10.45" height="3.70" fill="#00BECF"/><rect x="179.36" y="629.30" width="10.45" height="5.90" fill="#46A0FF"/><rect x="179.36" y="634.50" width="10.45" height="3.10" fill="#8794FF"/><rect x="179.36" y="636.90" width="10.45" height="5.40" fill="#F365E6"/><rect x="190.99" y="540.80" width="10.45" height="1.90" fill="#EF7F48"/><rect x="190.99" y="542.00" width="10.45" height="18.20" fill="#D69100"/><rect x="190.99" y="559.50" width="10.45" height="43.90" fill="#B4A000"/><rect x="190.99" y="602.70" width="10.45" height="4.70" fill="#83AD00"/><rect x="190.99" y="606.70" width="10.45" height="11.50" fill="#19B700"/><rect x="190.99" y="617.50" width="10.45" height="5.40" fill="#00C088"/><rect x="190.99" y="622.20" width="10.45" height="6.40" fill="#00ABFD"/><rect x="190.99" y="627.90" width="10.45" height="9.70" fill="#F365E6"/><rect x="190.99" y="636.90" width="10.45" height="5.40" fill="#FF62BE"/><rect x="208.61" y="523.60" width="10.45" height="8.50" fill="#EF7F48"/><rect x="208.61" y="531.40" width="10.45" height="18.10" fill="#E48800"/><rect x="208.61" y="548.80" width="10.45" height="48.70" fill="#B4A000"/><rect x="208.61" y="596.80" width="10.45" height="5.40" fill="#9EA700"/><rect x="208.61" y="601.50" width="10.45" height="5.40" fill="#19B700"/><rect x="208.61" y="606.20" width="10.45" height="7.80" fill="#00C088"/><rect x="208.61" y="613.30" width="10.45" height="5.40" fill="#00ABFD"/><rect x="208.61" y="618.00" width="10.45" height="4.20" fill="#46A0FF"/><rect x="208.61" y="621.50" width="10.45" height="4.30" fill="#B086FF"/><rect x="208.61" y="625.10" width="10.45" height="7.80" fill="#E46DF6"/><rect x="208.61" y="632.20" width="10.45" height="10.10" fill="#FF62BE"/><rect x="220.24" y="516.00" width="10.45" height="15.40" fill="#D69100"/><rect x="220.24" y="530.70" width="10.45" height="65.10" fill="#B4A000"/><rect x="220.24" y="595.10" width="10.45" height="4.20" fill="#83AD00"/><rect x="220.24" y="598.60" width="10.45" height="3.10" fill="#19B700"/><rect x="220.24" y="601.00" width="10.45" height="14.20" fill="#00C088"/><rect x="220.24" y="614.50" width="10.45" height="5.40" fill="#46A0FF"/><rect x="220.24" y="619.20" width="10.45" height="14.80" fill="#B086FF"/><rect x="220.24" y="633.30" width="10.45" height="9.00" fill="#E46DF6"/><rect x="237.86" y="530.20" width="10.45" height="1.90" fill="#EF7F48"/><rect x="237.86" y="531.40" width="10.45" height="13.00" fill="#D69100"/><rect x="237.86" y="543.70" width="10.45" height="38.90" fill="#B4A000"/><rect x="237.86" y="581.90" width="10.45" height="16.30" fill="#00C088"/><rect x="237.86" y="597.50" width="10.45" height="4.70" fill="#00ABFD"/><rect x="237.86" y="601.50" width="10.45" height="18.80" fill="#46A0FF"/><rect x="237.86" y="619.60" width="10.45" height="8.50" fill="#B086FF"/><rect x="237.86" y="627.40" width="10.45" height="14.90" fill="#FF67A6"/><rect x="249.49" y="530.90" width="10.45" height="9.40" fill="#D69100"/><rect x="249.49" y="539.60" width="10.45" height="62.10" fill="#B4A000"/><rect x="249.49" y="601.00" width="10.45" height="5.90" fill="#00BE6B"/><rect x="249.49" y="606.20" width="10.45" height="6.60" fill="#00C1A2"/><rect x="249.49" y="612.10" width="10.45" height="3.80" fill="#00ABFD"/><rect x="249.49" y="615.20" width="10.45" height="27.10" fill="#46A0FF"/><rect x="249.49" y="641.60" width="10.45" height="0.70" fill="#E46DF6"/><rect x="267.11" y="531.20" width="10.45" height="3.20" fill="#EF7F48"/><rect x="267.11" y="533.70" width="10.45" height="23.60" fill="#B4A000"/><rect x="267.11" y="556.60" width="10.45" height="5.00" fill="#83AD00"/><rect x="267.11" y="560.90" width="10.45" height="5.40" fill="#19B700"/><rect x="267.11" y="565.60" width="10.45" height="17.70" fill="#00C088"/><rect x="267.11" y="582.60" width="10.45" height="3.10" fill="#00ABFD"/><rect x="267.11" y="585.00" width="10.45" height="16.70" fill="#46A0FF"/><rect x="267.11" y="601.00" width="10.45" height="33.70" fill="#E46DF6"/><rect x="267.11" y="634.00" width="10.45" height="8.30" fill="#FF62BE"/><rect x="278.74" y="530.00" width="10.45" height="21.40" fill="#E48800"/><rect x="278.74" y="550.70" width="10.45" height="68.00" fill="#B4A000"/><rect x="278.74" y="618.00" width="10.45" height="1.90" fill="#00C1A2"/><rect x="278.74" y="619.20" width="10.45" height="20.70" fill="#46A0FF"/><rect x="278.74" y="639.20" width="10.45" height="3.10" fill="#F365E6"/>
<line x1="60.90" y1="503.20" x2="60.90" y2="648.90" stroke="#000" stroke-width="1.15" />
<line x1="57.70" y1="642.10" x2="60.90" y2="642.10" stroke="#000" stroke-width="0.9" />
<text transform="translate(54.40,644.90)" font-size="7.9" text-anchor="end" font-weight="normal" fill="#1a1a1a" stroke="#1a1a1a" stroke-width="0.12" >0.00</text>
<line x1="57.70" y1="608.15" x2="60.90" y2="608.15" stroke="#000" stroke-width="0.9" />
<text transform="translate(54.40,610.95)" font-size="7.9" text-anchor="end" font-weight="normal" fill="#1a1a1a" stroke="#1a1a1a" stroke-width="0.12" >0.25</text>
<line x1="57.70" y1="574.20" x2="60.90" y2="574.20" stroke="#000" stroke-width="0.9" />
<text transform="translate(54.40,577.00)" font-size="7.9" text-anchor="end" font-weight="normal" fill="#1a1a1a" stroke="#1a1a1a" stroke-width="0.12" >0.50</text>
<line x1="57.70" y1="540.25" x2="60.90" y2="540.25" stroke="#000" stroke-width="0.9" />
<text transform="translate(54.40,543.05)" font-size="7.9" text-anchor="end" font-weight="normal" fill="#1a1a1a" stroke="#1a1a1a" stroke-width="0.12" >0.75</text>
<line x1="57.70" y1="506.30" x2="60.90" y2="506.30" stroke="#000" stroke-width="0.9" />
<text transform="translate(54.40,509.10)" font-size="7.9" text-anchor="end" font-weight="normal" fill="#1a1a1a" stroke="#1a1a1a" stroke-width="0.12" >1.00</text>
<text transform="translate(179.60,670.30) scale(0.64,1)" font-size="9.8" text-anchor="middle" font-weight="normal" fill="#1a1a1a" stroke="#1a1a1a" stroke-width="0.42" >Timepoint</text>
<text transform="translate(33.50,490.50) rotate(-90) scale(0.625,1)" font-size="10.0" text-anchor="middle" font-weight="normal" fill="#1a1a1a" stroke="#1a1a1a" stroke-width="0.42" >Relative abundance</text>
<text transform="translate(325.00,358.40)" font-size="6.95" text-anchor="start" font-weight="normal" fill="#1a1a1a" stroke="#1a1a1a" stroke-width="0.1" >Genus</text>
<rect x="310.9" y="362.40" width="9.75" height="9.4" fill="#F8766D"/>
<text transform="translate(325.00,369.50)" font-size="6.95" text-anchor="start" font-weight="normal" fill="#1a1a1a" stroke="#1a1a1a" stroke-width="0.1" >Acidaminococcus</text>
<rect x="310.9" y="372.52" width="9.75" height="9.4" fill="#EF7F48"/>
<text transform="translate(325.00,379.62)" font-size="6.95" text-anchor="start" font-weight="normal" fill="#1a1a1a" stroke="#1a1a1a" stroke-width="0.1" >Agathobacter</text>
<rect x="310.9" y="382.64" width="9.75" height="9.4" fill="#E48800"/>
<text transform="translate(325.00,389.74)" font-size="6.95" text-anchor="start" font-weight="normal" fill="#1a1a1a" stroke="#1a1a1a" stroke-width="0.1" >Akkermansia</text>
<rect x="310.9" y="392.76" width="9.75" height="9.4" fill="#D69100"/>
<text transform="translate(325.00,399.86)" font-size="6.95" text-anchor="start" font-weight="normal" fill="#1a1a1a" stroke="#1a1a1a" stroke-width="0.1" >Alistipes</text>
<rect x="310.9" y="402.88" width="9.75" height="9.4" fill="#C69900"/>
<text transform="translate(325.00,409.98)" font-size="6.95" text-anchor="start" font-weight="normal" fill="#1a1a1a" stroke="#1a1a1a" stroke-width="0.1" >Asticcacaulis</text>
<rect x="310.9" y="413.00" width="9.75" height="9.4" fill="#B4A000"/>
<text transform="translate(325.00,420.10)" font-size="6.95" text-anchor="start" font-weight="normal" fill="#1a1a1a" stroke="#1a1a1a" stroke-width="0.1" >Bacteroides</text>
<rect x="310.9" y="423.12" width="9.75" height="9.4" fill="#9EA700"/>
<text transform="translate(325.00,430.22)" font-size="6.95" text-anchor="start" font-weight="normal" fill="#1a1a1a" stroke="#1a1a1a" stroke-width="0.1" >Bifidobacterium</text>
<rect x="310.9" y="433.24" width="9.75" height="9.4" fill="#83AD00"/>
<text transform="translate(325.00,440.34)" font-size="6.95" text-anchor="start" font-weight="normal" fill="#1a1a1a" stroke="#1a1a1a" stroke-width="0.1" >Blautia</text>
<rect x="310.9" y="443.36" width="9.75" height="9.4" fill="#60B200"/>
<text transform="translate(325.00,450.46)" font-size="6.95" text-anchor="start" font-weight="normal" fill="#1a1a1a" stroke="#1a1a1a" stroke-width="0.1" >Chitinophaga</text>
<rect x="310.9" y="453.48" width="9.75" height="9.4" fill="#19B700"/>
<text transform="translate(325.00,460.58)" font-size="6.95" text-anchor="start" font-weight="normal" fill="#1a1a1a" stroke="#1a1a1a" stroke-width="0.1" >Collinsella</text>
<rect x="310.9" y="463.60" width="9.75" height="9.4" fill="#00BB48"/>
<text transform="translate(325.00,470.70)" font-size="6.95" text-anchor="start" font-weight="normal" fill="#1a1a1a" stroke="#1a1a1a" stroke-width="0.1" >Eisenbergiella</text>
<rect x="310.9" y="473.72" width="9.75" height="9.4" fill="#00BE6B"/>
<text transform="translate(325.00,480.82)" font-size="6.95" text-anchor="start" font-weight="normal" fill="#1a1a1a" stroke="#1a1a1a" stroke-width="0.1" >Escherichia-Shigella</text>
<rect x="310.9" y="483.84" width="9.75" height="9.4" fill="#00C088"/>
<text transform="translate(325.00,490.94)" font-size="6.95" text-anchor="start" font-weight="normal" fill="#1a1a1a" stroke="#1a1a1a" stroke-width="0.1" >Faecalibacterium</text>
<rect x="310.9" y="493.96" width="9.75" height="9.4" fill="#00C1A2"/>
<text transform="translate(325.00,501.06)" font-size="6.95" text-anchor="start" font-weight="normal" fill="#1a1a1a" stroke="#1a1a1a" stroke-width="0.1" >Flavonifractor</text>
<rect x="310.9" y="504.08" width="9.75" height="9.4" fill="#00C0BA"/>
<text transform="translate(325.00,511.18)" font-size="6.95" text-anchor="start" font-weight="normal" fill="#1a1a1a" stroke="#1a1a1a" stroke-width="0.1" >Hungatella</text>
<rect x="310.9" y="514.20" width="9.75" height="9.4" fill="#00BECF"/>
<text transform="translate(325.00,521.30)" font-size="6.95" text-anchor="start" font-weight="normal" fill="#1a1a1a" stroke="#1a1a1a" stroke-width="0.1" >Lachnoclostridium</text>
<rect x="310.9" y="524.32" width="9.75" height="9.4" fill="#00B9E1"/>
<text transform="translate(325.00,531.42)" font-size="6.95" text-anchor="start" font-weight="normal" fill="#1a1a1a" stroke="#1a1a1a" stroke-width="0.1" >Mucilaginibacter</text>
<rect x="310.9" y="534.44" width="9.75" height="9.4" fill="#00B3F1"/>
<text transform="translate(325.00,541.54)" font-size="6.95" text-anchor="start" font-weight="normal" fill="#1a1a1a" stroke="#1a1a1a" stroke-width="0.1" >Nocardioides</text>
<rect x="310.9" y="544.56" width="9.75" height="9.4" fill="#00ABFD"/>
<text transform="translate(325.00,551.66)" font-size="6.95" text-anchor="start" font-weight="normal" fill="#1a1a1a" stroke="#1a1a1a" stroke-width="0.1" >Odoribacter</text>
<rect x="310.9" y="554.68" width="9.75" height="9.4" fill="#46A0FF"/>
<text transform="translate(325.00,561.78)" font-size="6.95" text-anchor="start" font-weight="normal" fill="#1a1a1a" stroke="#1a1a1a" stroke-width="0.1" >Parabacteroides</text>
<rect x="310.9" y="564.80" width="9.75" height="9.4" fill="#8794FF"/>
<text transform="translate(325.00,571.90)" font-size="6.95" text-anchor="start" font-weight="normal" fill="#1a1a1a" stroke="#1a1a1a" stroke-width="0.1" >Paraprevotella</text>
<rect x="310.9" y="574.92" width="9.75" height="9.4" fill="#B086FF"/>
<text transform="translate(325.00,582.02)" font-size="6.95" text-anchor="start" font-weight="normal" fill="#1a1a1a" stroke="#1a1a1a" stroke-width="0.1" >Parasutterella</text>
<rect x="310.9" y="585.04" width="9.75" height="9.4" fill="#CE79FF"/>
<text transform="translate(325.00,592.14)" font-size="6.95" text-anchor="start" font-weight="normal" fill="#1a1a1a" stroke="#1a1a1a" stroke-width="0.1" >Phascolarctobacterium</text>
<rect x="310.9" y="595.16" width="9.75" height="9.4" fill="#E46DF6"/>
<text transform="translate(325.00,602.26)" font-size="6.95" text-anchor="start" font-weight="normal" fill="#1a1a1a" stroke="#1a1a1a" stroke-width="0.1" >Prevotella_9</text>
<rect x="310.9" y="605.28" width="9.75" height="9.4" fill="#F365E6"/>
<text transform="translate(325.00,612.38)" font-size="6.95" text-anchor="start" font-weight="normal" fill="#1a1a1a" stroke="#1a1a1a" stroke-width="0.1" >Streptococcus</text>
<rect x="310.9" y="615.40" width="9.75" height="9.4" fill="#FC61D4"/>
<text transform="translate(325.00,622.50)" font-size="6.95" text-anchor="start" font-weight="normal" fill="#1a1a1a" stroke="#1a1a1a" stroke-width="0.1" >Sutterella</text>
<rect x="310.9" y="625.52" width="9.75" height="9.4" fill="#FF62BE"/>
<text transform="translate(325.00,632.62)" font-size="6.95" text-anchor="start" font-weight="normal" fill="#1a1a1a" stroke="#1a1a1a" stroke-width="0.1" >UBA1819</text>
<rect x="310.9" y="635.64" width="9.75" height="9.4" fill="#FF67A6"/>
<text transform="translate(325.00,642.74)" font-size="6.95" text-anchor="start" font-weight="normal" fill="#1a1a1a" stroke="#1a1a1a" stroke-width="0.1" >UCG-002</text>
<rect x="310.9" y="645.76" width="9.75" height="9.4" fill="#FE6E8B"/>
<text transform="translate(325.00,652.86)" font-size="6.95" text-anchor="start" font-weight="normal" fill="#1a1a1a" stroke="#1a1a1a" stroke-width="0.1" >Veillonella</text>
</g>
<rect x="0" y="0" width="520" height="1" fill="#000"/><rect x="0" y="677" width="520" height="1" fill="#000"/><rect x="0" y="0" width="1" height="678" fill="#000"/><rect x="519" y="0" width="1" height="678" fill="#000"/>
</svg>
</body></html>
